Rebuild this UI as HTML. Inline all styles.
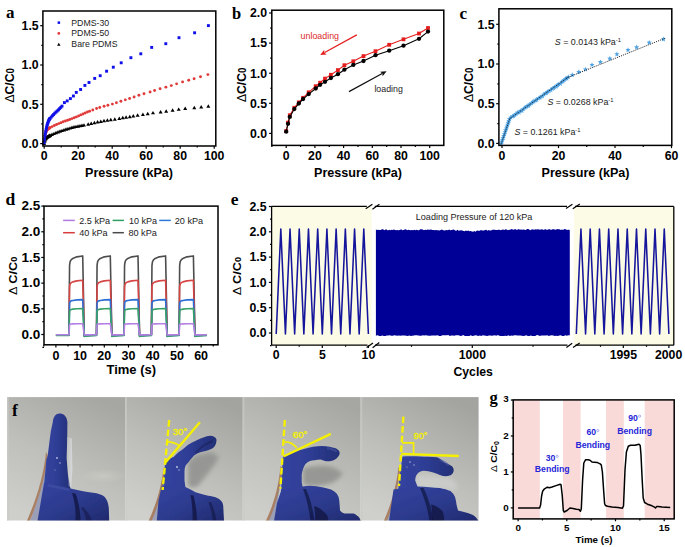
<!DOCTYPE html><html><head><meta charset="utf-8"><style>html,body{margin:0;padding:0;background:#fff;width:685px;height:547px;overflow:hidden}svg{display:block}</style></head><body>
<svg width="685" height="547" viewBox="0 0 685 547">
<rect width="685" height="547" fill="#fff"/>
<text x="5.90" y="18.00" font-family="'Liberation Serif',serif" font-size="17" font-weight="700" text-anchor="start" fill="#000"  style="">a</text>
<text transform="translate(14.20,85.30) rotate(-90)" x="0" y="0" text-anchor="middle" font-family="'Liberation Sans',sans-serif" font-size="12.6" font-weight="700" fill="#000" textLength="34.6" lengthAdjust="spacingAndGlyphs"><tspan font-weight="400">Δ</tspan>C/C<tspan font-size="10.08">0</tspan></text>
<circle cx="44.10" cy="142.67" r="1.45" fill="#e03a3a"/>
<circle cx="44.55" cy="138.47" r="1.45" fill="#e03a3a"/>
<circle cx="45.00" cy="136.00" r="1.45" fill="#e03a3a"/>
<circle cx="45.45" cy="133.75" r="1.45" fill="#e03a3a"/>
<circle cx="45.90" cy="132.48" r="1.45" fill="#e03a3a"/>
<circle cx="46.35" cy="131.34" r="1.45" fill="#e03a3a"/>
<circle cx="46.80" cy="130.20" r="1.45" fill="#e03a3a"/>
<circle cx="47.25" cy="129.78" r="1.45" fill="#e03a3a"/>
<circle cx="47.70" cy="129.35" r="1.45" fill="#e03a3a"/>
<circle cx="48.15" cy="128.93" r="1.45" fill="#e03a3a"/>
<circle cx="48.60" cy="128.54" r="1.45" fill="#e03a3a"/>
<circle cx="49.05" cy="128.27" r="1.45" fill="#e03a3a"/>
<circle cx="49.50" cy="128.00" r="1.45" fill="#e03a3a"/>
<circle cx="49.95" cy="127.73" r="1.45" fill="#e03a3a"/>
<circle cx="50.00" cy="127.70" r="1.45" fill="#e03a3a"/>
<circle cx="52.20" cy="126.58" r="1.45" fill="#e03a3a"/>
<circle cx="54.40" cy="125.57" r="1.45" fill="#e03a3a"/>
<circle cx="56.60" cy="124.57" r="1.45" fill="#e03a3a"/>
<circle cx="58.80" cy="123.60" r="1.45" fill="#e03a3a"/>
<circle cx="61.00" cy="122.70" r="1.45" fill="#e03a3a"/>
<circle cx="63.20" cy="121.82" r="1.45" fill="#e03a3a"/>
<circle cx="65.40" cy="121.04" r="1.45" fill="#e03a3a"/>
<circle cx="67.60" cy="120.25" r="1.45" fill="#e03a3a"/>
<circle cx="69.80" cy="119.47" r="1.45" fill="#e03a3a"/>
<circle cx="72.00" cy="118.61" r="1.45" fill="#e03a3a"/>
<circle cx="74.20" cy="117.75" r="1.45" fill="#e03a3a"/>
<circle cx="76.40" cy="116.88" r="1.45" fill="#e03a3a"/>
<circle cx="78.60" cy="115.91" r="1.45" fill="#e03a3a"/>
<circle cx="80.80" cy="114.92" r="1.45" fill="#e03a3a"/>
<circle cx="83.00" cy="113.94" r="1.45" fill="#e03a3a"/>
<circle cx="85.20" cy="112.96" r="1.45" fill="#e03a3a"/>
<circle cx="87.40" cy="112.07" r="1.45" fill="#e03a3a"/>
<circle cx="89.60" cy="111.25" r="1.45" fill="#e03a3a"/>
<circle cx="92.80" cy="110.00" r="1.45" fill="#e03a3a"/>
<circle cx="96.60" cy="108.50" r="1.45" fill="#e03a3a"/>
<circle cx="99.80" cy="107.56" r="1.45" fill="#e03a3a"/>
<circle cx="104.10" cy="106.30" r="1.45" fill="#e03a3a"/>
<circle cx="107.90" cy="105.29" r="1.45" fill="#e03a3a"/>
<circle cx="112.40" cy="104.10" r="1.45" fill="#e03a3a"/>
<circle cx="116.40" cy="102.75" r="1.45" fill="#e03a3a"/>
<circle cx="120.90" cy="101.23" r="1.45" fill="#e03a3a"/>
<circle cx="125.30" cy="99.85" r="1.45" fill="#e03a3a"/>
<circle cx="129.60" cy="98.50" r="1.45" fill="#e03a3a"/>
<circle cx="134.10" cy="96.95" r="1.45" fill="#e03a3a"/>
<circle cx="138.90" cy="95.30" r="1.45" fill="#e03a3a"/>
<circle cx="144.00" cy="93.80" r="1.45" fill="#e03a3a"/>
<circle cx="150.10" cy="92.00" r="1.45" fill="#e03a3a"/>
<circle cx="154.60" cy="90.56" r="1.45" fill="#e03a3a"/>
<circle cx="160.10" cy="88.80" r="1.45" fill="#e03a3a"/>
<circle cx="165.90" cy="87.14" r="1.45" fill="#e03a3a"/>
<circle cx="171.30" cy="85.60" r="1.45" fill="#e03a3a"/>
<circle cx="176.60" cy="83.86" r="1.45" fill="#e03a3a"/>
<circle cx="182.60" cy="81.90" r="1.45" fill="#e03a3a"/>
<circle cx="188.70" cy="80.20" r="1.45" fill="#e03a3a"/>
<circle cx="194.10" cy="78.70" r="1.45" fill="#e03a3a"/>
<circle cx="200.50" cy="76.80" r="1.45" fill="#e03a3a"/>
<circle cx="207.90" cy="74.60" r="1.45" fill="#e03a3a"/>
<path d="M44.10,141.50 L46.10,144.95 L42.10,144.95 Z" fill="#000"/>
<path d="M44.55,139.25 L46.55,142.70 L42.55,142.70 Z" fill="#000"/>
<path d="M45.00,138.11 L47.00,141.56 L43.00,141.56 Z" fill="#000"/>
<path d="M45.45,137.11 L47.45,140.56 L43.45,140.56 Z" fill="#000"/>
<path d="M45.90,136.48 L47.90,139.93 L43.90,139.93 Z" fill="#000"/>
<path d="M46.35,135.89 L48.35,139.34 L44.35,139.34 Z" fill="#000"/>
<path d="M46.80,135.30 L48.80,138.75 L44.80,138.75 Z" fill="#000"/>
<path d="M47.25,135.01 L49.25,138.46 L45.25,138.46 Z" fill="#000"/>
<path d="M47.70,134.72 L49.70,138.17 L45.70,138.17 Z" fill="#000"/>
<path d="M48.15,134.43 L50.15,137.88 L46.15,137.88 Z" fill="#000"/>
<path d="M48.60,134.15 L50.60,137.60 L46.60,137.60 Z" fill="#000"/>
<path d="M49.05,133.94 L51.05,137.39 L47.05,137.39 Z" fill="#000"/>
<path d="M49.50,133.74 L51.50,137.19 L47.50,137.19 Z" fill="#000"/>
<path d="M49.95,133.53 L51.95,136.98 L47.95,136.98 Z" fill="#000"/>
<path d="M50.00,133.50 L52.00,136.95 L48.00,136.95 Z" fill="#000"/>
<path d="M52.00,132.57 L54.00,136.02 L50.00,136.02 Z" fill="#000"/>
<path d="M54.00,131.64 L56.00,135.09 L52.00,135.09 Z" fill="#000"/>
<path d="M56.00,130.70 L58.00,134.15 L54.00,134.15 Z" fill="#000"/>
<path d="M58.00,130.01 L60.00,133.46 L56.00,133.46 Z" fill="#000"/>
<path d="M60.00,129.33 L62.00,132.78 L58.00,132.78 Z" fill="#000"/>
<path d="M62.00,128.64 L64.00,132.09 L60.00,132.09 Z" fill="#000"/>
<path d="M64.00,127.98 L66.00,131.43 L62.00,131.43 Z" fill="#000"/>
<path d="M66.00,127.34 L68.00,130.79 L64.00,130.79 Z" fill="#000"/>
<path d="M68.00,126.70 L70.00,130.15 L66.00,130.15 Z" fill="#000"/>
<path d="M70.00,126.13 L72.00,129.58 L68.00,129.58 Z" fill="#000"/>
<path d="M72.00,125.57 L74.00,129.02 L70.00,129.02 Z" fill="#000"/>
<path d="M74.00,125.00 L76.00,128.45 L72.00,128.45 Z" fill="#000"/>
<path d="M76.00,124.63 L78.00,128.08 L74.00,128.08 Z" fill="#000"/>
<path d="M78.00,124.27 L80.00,127.72 L76.00,127.72 Z" fill="#000"/>
<path d="M80.00,123.90 L82.00,127.35 L78.00,127.35 Z" fill="#000"/>
<path d="M82.00,123.53 L84.00,126.98 L80.00,126.98 Z" fill="#000"/>
<path d="M84.00,123.16 L86.00,126.61 L82.00,126.61 Z" fill="#000"/>
<path d="M88.20,122.34 L90.20,125.79 L86.20,125.79 Z" fill="#000"/>
<path d="M91.20,121.55 L93.20,125.00 L89.20,125.00 Z" fill="#000"/>
<path d="M94.40,120.71 L96.40,124.16 L92.40,124.16 Z" fill="#000"/>
<path d="M97.60,120.05 L99.60,123.50 L95.60,123.50 Z" fill="#000"/>
<path d="M100.80,119.43 L102.80,122.88 L98.80,122.88 Z" fill="#000"/>
<path d="M104.00,118.80 L106.00,122.25 L102.00,122.25 Z" fill="#000"/>
<path d="M107.40,118.25 L109.40,121.70 L105.40,121.70 Z" fill="#000"/>
<path d="M110.80,117.70 L112.80,121.15 L108.80,121.15 Z" fill="#000"/>
<path d="M114.80,117.30 L116.80,120.75 L112.80,120.75 Z" fill="#000"/>
<path d="M119.30,116.50 L121.30,119.95 L117.30,119.95 Z" fill="#000"/>
<path d="M122.80,115.70 L124.80,119.15 L120.80,119.15 Z" fill="#000"/>
<path d="M126.10,115.30 L128.10,118.75 L124.10,118.75 Z" fill="#000"/>
<path d="M129.80,114.68 L131.80,118.13 L127.80,118.13 Z" fill="#000"/>
<path d="M133.30,114.10 L135.30,117.55 L131.30,117.55 Z" fill="#000"/>
<path d="M137.60,113.30 L139.60,116.75 L135.60,116.75 Z" fill="#000"/>
<path d="M142.90,112.50 L144.90,115.95 L140.90,115.95 Z" fill="#000"/>
<path d="M147.70,111.70 L149.70,115.15 L145.70,115.15 Z" fill="#000"/>
<path d="M153.00,110.90 L155.00,114.35 L151.00,114.35 Z" fill="#000"/>
<path d="M160.60,110.10 L162.60,113.55 L158.60,113.55 Z" fill="#000"/>
<path d="M166.20,109.30 L168.20,112.75 L164.20,112.75 Z" fill="#000"/>
<path d="M172.60,108.20 L174.60,111.65 L170.60,111.65 Z" fill="#000"/>
<path d="M178.70,107.40 L180.70,110.85 L176.70,110.85 Z" fill="#000"/>
<path d="M185.20,106.60 L187.20,110.05 L183.20,110.05 Z" fill="#000"/>
<path d="M194.30,105.80 L196.30,109.25 L192.30,109.25 Z" fill="#000"/>
<path d="M201.20,105.00 L203.20,108.45 L199.20,108.45 Z" fill="#000"/>
<path d="M208.30,104.20 L210.30,107.65 L206.30,107.65 Z" fill="#000"/>
<rect x="42.65" y="141.32" width="2.9" height="2.9" fill="#1010e8"/>
<rect x="43.05" y="138.03" width="2.9" height="2.9" fill="#1010e8"/>
<rect x="43.45" y="134.95" width="2.9" height="2.9" fill="#1010e8"/>
<rect x="43.85" y="132.55" width="2.9" height="2.9" fill="#1010e8"/>
<rect x="44.25" y="130.15" width="2.9" height="2.9" fill="#1010e8"/>
<rect x="44.65" y="128.18" width="2.9" height="2.9" fill="#1010e8"/>
<rect x="45.05" y="126.34" width="2.9" height="2.9" fill="#1010e8"/>
<rect x="45.45" y="124.51" width="2.9" height="2.9" fill="#1010e8"/>
<rect x="45.85" y="123.13" width="2.9" height="2.9" fill="#1010e8"/>
<rect x="46.25" y="121.90" width="2.9" height="2.9" fill="#1010e8"/>
<rect x="46.65" y="120.67" width="2.9" height="2.9" fill="#1010e8"/>
<rect x="47.05" y="119.63" width="2.9" height="2.9" fill="#1010e8"/>
<rect x="47.45" y="118.80" width="2.9" height="2.9" fill="#1010e8"/>
<rect x="47.85" y="117.97" width="2.9" height="2.9" fill="#1010e8"/>
<rect x="48.25" y="117.33" width="2.9" height="2.9" fill="#1010e8"/>
<rect x="48.55" y="116.99" width="2.9" height="2.9" fill="#1010e8"/>
<rect x="49.75" y="115.65" width="2.9" height="2.9" fill="#1010e8"/>
<rect x="50.95" y="114.32" width="2.9" height="2.9" fill="#1010e8"/>
<rect x="52.15" y="113.04" width="2.9" height="2.9" fill="#1010e8"/>
<rect x="53.35" y="111.76" width="2.9" height="2.9" fill="#1010e8"/>
<rect x="54.55" y="110.64" width="2.9" height="2.9" fill="#1010e8"/>
<rect x="55.75" y="109.55" width="2.9" height="2.9" fill="#1010e8"/>
<rect x="56.95" y="108.45" width="2.9" height="2.9" fill="#1010e8"/>
<rect x="58.15" y="107.19" width="2.9" height="2.9" fill="#1010e8"/>
<rect x="59.35" y="105.94" width="2.9" height="2.9" fill="#1010e8"/>
<rect x="60.55" y="104.68" width="2.9" height="2.9" fill="#1010e8"/>
<rect x="62.95" y="101.15" width="2.9" height="2.9" fill="#1010e8"/>
<rect x="65.75" y="99.45" width="2.9" height="2.9" fill="#1010e8"/>
<rect x="68.95" y="97.15" width="2.9" height="2.9" fill="#1010e8"/>
<rect x="71.95" y="94.55" width="2.9" height="2.9" fill="#1010e8"/>
<rect x="74.85" y="90.95" width="2.9" height="2.9" fill="#1010e8"/>
<rect x="79.15" y="88.05" width="2.9" height="2.9" fill="#1010e8"/>
<rect x="83.45" y="83.95" width="2.9" height="2.9" fill="#1010e8"/>
<rect x="87.55" y="81.05" width="2.9" height="2.9" fill="#1010e8"/>
<rect x="93.25" y="76.95" width="2.9" height="2.9" fill="#1010e8"/>
<rect x="98.75" y="74.25" width="2.9" height="2.9" fill="#1010e8"/>
<rect x="105.15" y="69.75" width="2.9" height="2.9" fill="#1010e8"/>
<rect x="111.85" y="65.75" width="2.9" height="2.9" fill="#1010e8"/>
<rect x="119.75" y="61.35" width="2.9" height="2.9" fill="#1010e8"/>
<rect x="129.45" y="56.25" width="2.9" height="2.9" fill="#1010e8"/>
<rect x="139.35" y="52.35" width="2.9" height="2.9" fill="#1010e8"/>
<rect x="150.25" y="45.95" width="2.9" height="2.9" fill="#1010e8"/>
<rect x="164.35" y="42.25" width="2.9" height="2.9" fill="#1010e8"/>
<rect x="177.55" y="36.25" width="2.9" height="2.9" fill="#1010e8"/>
<rect x="193.15" y="31.35" width="2.9" height="2.9" fill="#1010e8"/>
<rect x="206.95" y="24.15" width="2.9" height="2.9" fill="#1010e8"/>
<rect x="57.6" y="21.4" width="2.5" height="2.5" fill="#1010e8"/>
<circle cx="58.8" cy="33.4" r="1.4" fill="#e03a3a"/>
<path d="M58.8,42.8 L60.55,45.8 L57.05,45.8 Z" fill="#000"/>
<text x="71.30" y="25.50" font-family="'Liberation Sans',sans-serif" font-size="8.5" font-weight="400" text-anchor="start" fill="#222" textLength="37.8" lengthAdjust="spacingAndGlyphs"  style="">PDMS-30</text>
<text x="71.30" y="36.40" font-family="'Liberation Sans',sans-serif" font-size="8.5" font-weight="400" text-anchor="start" fill="#222" textLength="37.8" lengthAdjust="spacingAndGlyphs"  style="">PDMS-50</text>
<text x="71.30" y="47.40" font-family="'Liberation Sans',sans-serif" font-size="8.5" font-weight="400" text-anchor="start" fill="#222" textLength="46.2" lengthAdjust="spacingAndGlyphs"  style="">Bare PDMS</text>
<rect x="42.90" y="11.00" width="172.90" height="135.00" fill="none" stroke="#000" stroke-width="1.5"/>
<line x1="40.20" y1="143.60" x2="42.90" y2="143.60" stroke="#000" stroke-width="1.2" />
<line x1="40.20" y1="104.30" x2="42.90" y2="104.30" stroke="#000" stroke-width="1.2" />
<line x1="40.20" y1="65.00" x2="42.90" y2="65.00" stroke="#000" stroke-width="1.2" />
<line x1="40.20" y1="25.70" x2="42.90" y2="25.70" stroke="#000" stroke-width="1.2" />
<line x1="41.30" y1="123.95" x2="42.90" y2="123.95" stroke="#000" stroke-width="1.2" />
<line x1="41.30" y1="84.65" x2="42.90" y2="84.65" stroke="#000" stroke-width="1.2" />
<line x1="41.30" y1="45.35" x2="42.90" y2="45.35" stroke="#000" stroke-width="1.2" />
<line x1="44.20" y1="146.00" x2="44.20" y2="148.70" stroke="#000" stroke-width="1.2" />
<line x1="78.20" y1="146.00" x2="78.20" y2="148.70" stroke="#000" stroke-width="1.2" />
<line x1="112.20" y1="146.00" x2="112.20" y2="148.70" stroke="#000" stroke-width="1.2" />
<line x1="146.20" y1="146.00" x2="146.20" y2="148.70" stroke="#000" stroke-width="1.2" />
<line x1="180.20" y1="146.00" x2="180.20" y2="148.70" stroke="#000" stroke-width="1.2" />
<line x1="214.20" y1="146.00" x2="214.20" y2="148.70" stroke="#000" stroke-width="1.2" />
<line x1="61.20" y1="146.00" x2="61.20" y2="147.60" stroke="#000" stroke-width="1.2" />
<line x1="95.20" y1="146.00" x2="95.20" y2="147.60" stroke="#000" stroke-width="1.2" />
<line x1="129.20" y1="146.00" x2="129.20" y2="147.60" stroke="#000" stroke-width="1.2" />
<line x1="163.20" y1="146.00" x2="163.20" y2="147.60" stroke="#000" stroke-width="1.2" />
<line x1="197.20" y1="146.00" x2="197.20" y2="147.60" stroke="#000" stroke-width="1.2" />
<text transform="translate(38.70,147.90) scale(1.0,1)" font-family="'Liberation Sans',sans-serif" font-size="12.3" font-weight="700" text-anchor="end" fill="#000">0.0</text>
<text transform="translate(38.70,108.60) scale(1.0,1)" font-family="'Liberation Sans',sans-serif" font-size="12.3" font-weight="700" text-anchor="end" fill="#000">0.5</text>
<text transform="translate(38.70,69.30) scale(1.0,1)" font-family="'Liberation Sans',sans-serif" font-size="12.3" font-weight="700" text-anchor="end" fill="#000">1.0</text>
<text transform="translate(38.70,30.00) scale(1.0,1)" font-family="'Liberation Sans',sans-serif" font-size="12.3" font-weight="700" text-anchor="end" fill="#000">1.5</text>
<text transform="translate(44.20,159.60) scale(1.0,1)" font-family="'Liberation Sans',sans-serif" font-size="12.3" font-weight="700" text-anchor="middle" fill="#000">0</text>
<text transform="translate(78.20,159.60) scale(1.0,1)" font-family="'Liberation Sans',sans-serif" font-size="12.3" font-weight="700" text-anchor="middle" fill="#000">20</text>
<text transform="translate(112.20,159.60) scale(1.0,1)" font-family="'Liberation Sans',sans-serif" font-size="12.3" font-weight="700" text-anchor="middle" fill="#000">40</text>
<text transform="translate(146.20,159.60) scale(1.0,1)" font-family="'Liberation Sans',sans-serif" font-size="12.3" font-weight="700" text-anchor="middle" fill="#000">60</text>
<text transform="translate(180.20,159.60) scale(1.0,1)" font-family="'Liberation Sans',sans-serif" font-size="12.3" font-weight="700" text-anchor="middle" fill="#000">80</text>
<text transform="translate(214.20,159.60) scale(1.0,1)" font-family="'Liberation Sans',sans-serif" font-size="12.3" font-weight="700" text-anchor="middle" fill="#000">100</text>
<text x="129.00" y="176.80" font-family="'Liberation Sans',sans-serif" font-size="12.0" font-weight="700" text-anchor="middle" fill="#000" textLength="88.0" lengthAdjust="spacingAndGlyphs"  style="">Pressure (kPa)</text>
<text x="231.90" y="18.80" font-family="'Liberation Serif',serif" font-size="16.5" font-weight="700" text-anchor="start" fill="#000"  style="">b</text>
<text transform="translate(246.00,84.80) rotate(-90)" x="0" y="0" text-anchor="middle" font-family="'Liberation Sans',sans-serif" font-size="12.6" font-weight="700" fill="#000" textLength="34.6" lengthAdjust="spacingAndGlyphs"><tspan font-weight="400">Δ</tspan>C/C<tspan font-size="10.08">0</tspan></text>
<polyline points="286.20,131.00 288.00,122.60 289.80,115.20 294.30,107.80 298.80,102.40 303.10,97.80 308.70,92.30 315.70,86.20 320.10,82.70 325.00,78.60 330.90,74.80 337.90,70.10 344.40,65.20 353.30,61.30 363.50,56.10 375.50,51.20 389.20,44.80 403.50,39.30 419.00,33.50 428.00,28.00" fill="none" stroke="#e41e1e" stroke-width="1.1" stroke-linejoin="round" />
<rect x="284.30" y="129.10" width="3.8" height="3.8" fill="#e41e1e"/>
<rect x="286.10" y="120.70" width="3.8" height="3.8" fill="#e41e1e"/>
<rect x="287.90" y="113.30" width="3.8" height="3.8" fill="#e41e1e"/>
<rect x="292.40" y="105.90" width="3.8" height="3.8" fill="#e41e1e"/>
<rect x="296.90" y="100.50" width="3.8" height="3.8" fill="#e41e1e"/>
<rect x="301.20" y="95.90" width="3.8" height="3.8" fill="#e41e1e"/>
<rect x="306.80" y="90.40" width="3.8" height="3.8" fill="#e41e1e"/>
<rect x="313.80" y="84.30" width="3.8" height="3.8" fill="#e41e1e"/>
<rect x="318.20" y="80.80" width="3.8" height="3.8" fill="#e41e1e"/>
<rect x="323.10" y="76.70" width="3.8" height="3.8" fill="#e41e1e"/>
<rect x="329.00" y="72.90" width="3.8" height="3.8" fill="#e41e1e"/>
<rect x="336.00" y="68.20" width="3.8" height="3.8" fill="#e41e1e"/>
<rect x="342.50" y="63.30" width="3.8" height="3.8" fill="#e41e1e"/>
<rect x="351.40" y="59.40" width="3.8" height="3.8" fill="#e41e1e"/>
<rect x="361.60" y="54.20" width="3.8" height="3.8" fill="#e41e1e"/>
<rect x="373.60" y="49.30" width="3.8" height="3.8" fill="#e41e1e"/>
<rect x="387.30" y="42.90" width="3.8" height="3.8" fill="#e41e1e"/>
<rect x="401.60" y="37.40" width="3.8" height="3.8" fill="#e41e1e"/>
<rect x="417.10" y="31.60" width="3.8" height="3.8" fill="#e41e1e"/>
<rect x="426.10" y="26.10" width="3.8" height="3.8" fill="#e41e1e"/>
<polyline points="286.20,131.70 288.00,123.80 289.80,116.90 294.30,109.10 298.80,103.50 303.10,99.00 308.70,94.10 315.70,88.50 320.10,84.80 325.00,81.80 330.90,78.00 337.90,74.20 344.40,69.70 353.30,64.90 363.50,61.00 375.50,55.20 389.20,50.70 403.50,45.70 419.00,38.80 428.00,31.60" fill="none" stroke="#000" stroke-width="1.1" stroke-linejoin="round" />
<circle cx="286.20" cy="131.70" r="2.15" fill="#000"/>
<circle cx="288.00" cy="123.80" r="2.15" fill="#000"/>
<circle cx="289.80" cy="116.90" r="2.15" fill="#000"/>
<circle cx="294.30" cy="109.10" r="2.15" fill="#000"/>
<circle cx="298.80" cy="103.50" r="2.15" fill="#000"/>
<circle cx="303.10" cy="99.00" r="2.15" fill="#000"/>
<circle cx="308.70" cy="94.10" r="2.15" fill="#000"/>
<circle cx="315.70" cy="88.50" r="2.15" fill="#000"/>
<circle cx="320.10" cy="84.80" r="2.15" fill="#000"/>
<circle cx="325.00" cy="81.80" r="2.15" fill="#000"/>
<circle cx="330.90" cy="78.00" r="2.15" fill="#000"/>
<circle cx="337.90" cy="74.20" r="2.15" fill="#000"/>
<circle cx="344.40" cy="69.70" r="2.15" fill="#000"/>
<circle cx="353.30" cy="64.90" r="2.15" fill="#000"/>
<circle cx="363.50" cy="61.00" r="2.15" fill="#000"/>
<circle cx="375.50" cy="55.20" r="2.15" fill="#000"/>
<circle cx="389.20" cy="50.70" r="2.15" fill="#000"/>
<circle cx="403.50" cy="45.70" r="2.15" fill="#000"/>
<circle cx="419.00" cy="38.80" r="2.15" fill="#000"/>
<circle cx="428.00" cy="31.60" r="2.15" fill="#000"/>
<line x1="356.80" y1="34.90" x2="324.58" y2="52.59" stroke="#e41e1e" stroke-width="1.2" />
<path d="M320.20,55.00 L324.21,49.83 L324.41,52.69 L326.71,54.39 Z" fill="#e41e1e"/>
<line x1="349.00" y1="91.60" x2="382.21" y2="73.58" stroke="#111" stroke-width="1.2" />
<path d="M386.60,71.20 L382.57,76.35 L382.38,73.49 L380.09,71.78 Z" fill="#111"/>
<text x="300.60" y="38.80" font-family="'Liberation Sans',sans-serif" font-size="8.4" font-weight="400" text-anchor="start" fill="#dc2a2a" textLength="38.4" lengthAdjust="spacingAndGlyphs"  style="">unloading</text>
<text x="374.40" y="92.20" font-family="'Liberation Sans',sans-serif" font-size="8.4" font-weight="400" text-anchor="start" fill="#222" textLength="28.4" lengthAdjust="spacingAndGlyphs"  style="">loading</text>
<rect x="271.80" y="10.20" width="172.00" height="135.20" fill="none" stroke="#000" stroke-width="1.5"/>
<line x1="269.10" y1="133.40" x2="271.80" y2="133.40" stroke="#000" stroke-width="1.2" />
<line x1="269.10" y1="103.30" x2="271.80" y2="103.30" stroke="#000" stroke-width="1.2" />
<line x1="269.10" y1="73.20" x2="271.80" y2="73.20" stroke="#000" stroke-width="1.2" />
<line x1="269.10" y1="43.10" x2="271.80" y2="43.10" stroke="#000" stroke-width="1.2" />
<line x1="269.10" y1="13.00" x2="271.80" y2="13.00" stroke="#000" stroke-width="1.2" />
<line x1="270.20" y1="118.35" x2="271.80" y2="118.35" stroke="#000" stroke-width="1.2" />
<line x1="270.20" y1="88.25" x2="271.80" y2="88.25" stroke="#000" stroke-width="1.2" />
<line x1="270.20" y1="58.15" x2="271.80" y2="58.15" stroke="#000" stroke-width="1.2" />
<line x1="270.20" y1="28.05" x2="271.80" y2="28.05" stroke="#000" stroke-width="1.2" />
<line x1="286.20" y1="145.40" x2="286.20" y2="148.10" stroke="#000" stroke-width="1.2" />
<line x1="314.90" y1="145.40" x2="314.90" y2="148.10" stroke="#000" stroke-width="1.2" />
<line x1="343.60" y1="145.40" x2="343.60" y2="148.10" stroke="#000" stroke-width="1.2" />
<line x1="372.30" y1="145.40" x2="372.30" y2="148.10" stroke="#000" stroke-width="1.2" />
<line x1="401.00" y1="145.40" x2="401.00" y2="148.10" stroke="#000" stroke-width="1.2" />
<line x1="429.70" y1="145.40" x2="429.70" y2="148.10" stroke="#000" stroke-width="1.2" />
<line x1="271.85" y1="145.40" x2="271.85" y2="147.00" stroke="#000" stroke-width="1.2" />
<line x1="300.55" y1="145.40" x2="300.55" y2="147.00" stroke="#000" stroke-width="1.2" />
<line x1="329.25" y1="145.40" x2="329.25" y2="147.00" stroke="#000" stroke-width="1.2" />
<line x1="357.95" y1="145.40" x2="357.95" y2="147.00" stroke="#000" stroke-width="1.2" />
<line x1="386.65" y1="145.40" x2="386.65" y2="147.00" stroke="#000" stroke-width="1.2" />
<line x1="415.35" y1="145.40" x2="415.35" y2="147.00" stroke="#000" stroke-width="1.2" />
<text transform="translate(267.00,137.70) scale(1.0,1)" font-family="'Liberation Sans',sans-serif" font-size="12.3" font-weight="700" text-anchor="end" fill="#000">0.0</text>
<text transform="translate(267.00,107.60) scale(1.0,1)" font-family="'Liberation Sans',sans-serif" font-size="12.3" font-weight="700" text-anchor="end" fill="#000">0.5</text>
<text transform="translate(267.00,77.50) scale(1.0,1)" font-family="'Liberation Sans',sans-serif" font-size="12.3" font-weight="700" text-anchor="end" fill="#000">1.0</text>
<text transform="translate(267.00,47.40) scale(1.0,1)" font-family="'Liberation Sans',sans-serif" font-size="12.3" font-weight="700" text-anchor="end" fill="#000">1.5</text>
<text transform="translate(267.00,17.30) scale(1.0,1)" font-family="'Liberation Sans',sans-serif" font-size="12.3" font-weight="700" text-anchor="end" fill="#000">2.0</text>
<text transform="translate(286.20,159.60) scale(1.0,1)" font-family="'Liberation Sans',sans-serif" font-size="12.3" font-weight="700" text-anchor="middle" fill="#000">0</text>
<text transform="translate(314.90,159.60) scale(1.0,1)" font-family="'Liberation Sans',sans-serif" font-size="12.3" font-weight="700" text-anchor="middle" fill="#000">20</text>
<text transform="translate(343.60,159.60) scale(1.0,1)" font-family="'Liberation Sans',sans-serif" font-size="12.3" font-weight="700" text-anchor="middle" fill="#000">40</text>
<text transform="translate(372.30,159.60) scale(1.0,1)" font-family="'Liberation Sans',sans-serif" font-size="12.3" font-weight="700" text-anchor="middle" fill="#000">60</text>
<text transform="translate(401.00,159.60) scale(1.0,1)" font-family="'Liberation Sans',sans-serif" font-size="12.3" font-weight="700" text-anchor="middle" fill="#000">80</text>
<text transform="translate(429.70,159.60) scale(1.0,1)" font-family="'Liberation Sans',sans-serif" font-size="12.3" font-weight="700" text-anchor="middle" fill="#000">100</text>
<text x="358.00" y="176.80" font-family="'Liberation Sans',sans-serif" font-size="12.0" font-weight="700" text-anchor="middle" fill="#000" textLength="88.0" lengthAdjust="spacingAndGlyphs"  style="">Pressure (kPa)</text>
<text x="459.60" y="18.60" font-family="'Liberation Serif',serif" font-size="17" font-weight="700" text-anchor="start" fill="#000"  style="">c</text>
<text transform="translate(472.80,84.80) rotate(-90)" x="0" y="0" text-anchor="middle" font-family="'Liberation Sans',sans-serif" font-size="12.6" font-weight="700" fill="#000" textLength="34.6" lengthAdjust="spacingAndGlyphs"><tspan font-weight="400">Δ</tspan>C/C<tspan font-size="10.08">0</tspan></text>
<polygon points="501.20,140.90 501.91,142.62 503.77,142.77 502.36,143.98 502.79,145.78 501.20,144.81 499.61,145.78 500.04,143.98 498.63,142.77 500.49,142.62" fill="#4fa3e3"/>
<polygon points="501.84,139.01 502.55,140.72 504.41,140.87 502.99,142.08 503.43,143.89 501.84,142.92 500.25,143.89 500.68,142.08 499.27,140.87 501.12,140.72" fill="#4fa3e3"/>
<polygon points="502.48,137.12 503.19,138.83 505.04,138.98 503.63,140.19 504.06,142.00 502.48,141.03 500.89,142.00 501.32,140.19 499.91,138.98 501.76,138.83" fill="#4fa3e3"/>
<polygon points="503.12,135.22 503.83,136.94 505.68,137.09 504.27,138.30 504.70,140.11 503.12,139.14 501.53,140.11 501.96,138.30 500.55,137.09 502.40,136.94" fill="#4fa3e3"/>
<polygon points="503.75,133.33 504.47,135.05 506.32,135.20 504.91,136.41 505.34,138.22 503.75,137.25 502.17,138.22 502.60,136.41 501.19,135.20 503.04,135.05" fill="#4fa3e3"/>
<polygon points="504.39,131.44 505.11,133.16 506.96,133.30 505.55,134.51 505.98,136.32 504.39,135.35 502.81,136.32 503.24,134.51 501.82,133.30 503.68,133.16" fill="#4fa3e3"/>
<polygon points="505.03,129.55 505.74,131.26 507.60,131.41 506.19,132.62 506.62,134.43 505.03,133.46 503.44,134.43 503.88,132.62 502.46,131.41 504.32,131.26" fill="#4fa3e3"/>
<polygon points="505.67,127.65 506.38,129.37 508.24,129.52 506.82,130.73 507.26,132.54 505.67,131.57 504.08,132.54 504.51,130.73 503.10,129.52 504.96,129.37" fill="#4fa3e3"/>
<polygon points="506.31,125.76 507.02,127.48 508.88,127.63 507.46,128.84 507.89,130.65 506.31,129.68 504.72,130.65 505.15,128.84 503.74,127.63 505.59,127.48" fill="#4fa3e3"/>
<polygon points="506.95,123.87 507.66,125.59 509.51,125.73 508.10,126.94 508.53,128.75 506.95,127.78 505.36,128.75 505.79,126.94 504.38,125.73 506.23,125.59" fill="#4fa3e3"/>
<polygon points="507.58,121.98 508.30,123.69 510.15,123.84 508.74,125.05 509.17,126.86 507.58,125.89 506.00,126.86 506.43,125.05 505.02,123.84 506.87,123.69" fill="#4fa3e3"/>
<polygon points="508.22,120.08 508.94,121.80 510.79,121.95 509.38,123.16 509.81,124.97 508.22,124.00 506.64,124.97 507.07,123.16 505.66,121.95 507.51,121.80" fill="#4fa3e3"/>
<polygon points="508.86,118.19 509.58,119.91 511.43,120.06 510.02,121.27 510.45,123.08 508.86,122.11 507.27,123.08 507.71,121.27 506.29,120.06 508.15,119.91" fill="#4fa3e3"/>
<polygon points="509.50,116.30 510.21,118.02 512.07,118.17 510.66,119.38 511.09,121.18 509.50,120.22 507.91,121.18 508.34,119.38 506.93,118.17 508.79,118.02" fill="#4fa3e3"/>
<polygon points="510.77,114.91 511.48,116.63 513.33,116.78 511.92,117.99 512.35,119.80 510.77,118.83 509.18,119.80 509.61,117.99 508.20,116.78 510.05,116.63" fill="#4fa3e3"/>
<polygon points="512.33,113.85 513.05,115.56 514.90,115.71 513.49,116.92 513.92,118.73 512.33,117.76 510.75,118.73 511.18,116.92 509.77,115.71 511.62,115.56" fill="#4fa3e3"/>
<polygon points="513.64,113.23 514.35,114.95 516.21,115.10 514.79,116.30 515.22,118.11 513.64,117.14 512.05,118.11 512.48,116.30 511.07,115.10 512.92,114.95" fill="#4fa3e3"/>
<polygon points="514.72,112.43 515.44,114.15 517.29,114.30 515.88,115.51 516.31,117.31 514.72,116.34 513.14,117.31 513.57,115.51 512.16,114.30 514.01,114.15" fill="#4fa3e3"/>
<polygon points="516.08,111.37 516.80,113.09 518.65,113.24 517.24,114.45 517.67,116.26 516.08,115.29 514.50,116.26 514.93,114.45 513.52,113.24 515.37,113.09" fill="#4fa3e3"/>
<polygon points="517.47,109.99 518.19,111.71 520.04,111.86 518.63,113.07 519.06,114.87 517.47,113.91 515.89,114.87 516.32,113.07 514.91,111.86 516.76,111.71" fill="#4fa3e3"/>
<polygon points="519.06,109.90 519.77,111.62 521.63,111.77 520.21,112.98 520.65,114.79 519.06,113.82 517.47,114.79 517.90,112.98 516.49,111.77 518.35,111.62" fill="#4fa3e3"/>
<polygon points="520.25,108.21 520.97,109.93 522.82,110.08 521.41,111.29 521.84,113.09 520.25,112.12 518.66,113.09 519.10,111.29 517.68,110.08 519.54,109.93" fill="#4fa3e3"/>
<polygon points="521.93,108.11 522.64,109.83 524.49,109.97 523.08,111.18 523.51,112.99 521.93,112.02 520.34,112.99 520.77,111.18 519.36,109.97 521.21,109.83" fill="#4fa3e3"/>
<polygon points="523.27,106.48 523.98,108.20 525.84,108.34 524.42,109.55 524.85,111.36 523.27,110.39 521.68,111.36 522.11,109.55 520.70,108.34 522.55,108.20" fill="#4fa3e3"/>
<polygon points="524.88,105.09 525.59,106.81 527.45,106.95 526.03,108.16 526.47,109.97 524.88,109.00 523.29,109.97 523.72,108.16 522.31,106.95 524.16,106.81" fill="#4fa3e3"/>
<polygon points="526.18,104.41 526.89,106.13 528.75,106.28 527.34,107.49 527.77,109.29 526.18,108.33 524.59,109.29 525.02,107.49 523.61,106.28 525.47,106.13" fill="#4fa3e3"/>
<polygon points="527.12,103.23 527.84,104.95 529.69,105.10 528.28,106.31 528.71,108.12 527.12,107.15 525.54,108.12 525.97,106.31 524.56,105.10 526.41,104.95" fill="#4fa3e3"/>
<polygon points="528.59,103.10 529.31,104.82 531.16,104.97 529.75,106.18 530.18,107.99 528.59,107.02 527.01,107.99 527.44,106.18 526.03,104.97 527.88,104.82" fill="#4fa3e3"/>
<polygon points="529.89,101.85 530.60,103.57 532.46,103.72 531.05,104.93 531.48,106.74 529.89,105.77 528.30,106.74 528.73,104.93 527.32,103.72 529.18,103.57" fill="#4fa3e3"/>
<polygon points="531.54,100.63 532.25,102.35 534.10,102.50 532.69,103.71 533.12,105.51 531.54,104.55 529.95,105.51 530.38,103.71 528.97,102.50 530.82,102.35" fill="#4fa3e3"/>
<polygon points="532.85,99.29 533.57,101.01 535.42,101.15 534.01,102.36 534.44,104.17 532.85,103.20 531.27,104.17 531.70,102.36 530.29,101.15 532.14,101.01" fill="#4fa3e3"/>
<polygon points="533.93,98.49 534.65,100.21 536.50,100.36 535.09,101.57 535.52,103.38 533.93,102.41 532.35,103.38 532.78,101.57 531.37,100.36 533.22,100.21" fill="#4fa3e3"/>
<polygon points="535.68,97.79 536.39,99.50 538.25,99.65 536.83,100.86 537.27,102.67 535.68,101.70 534.09,102.67 534.52,100.86 533.11,99.65 534.96,99.50" fill="#4fa3e3"/>
<polygon points="536.83,97.01 537.54,98.72 539.40,98.87 537.99,100.08 538.42,101.89 536.83,100.92 535.24,101.89 535.67,100.08 534.26,98.87 536.12,98.72" fill="#4fa3e3"/>
<polygon points="538.29,95.69 539.00,97.41 540.85,97.56 539.44,98.77 539.87,100.58 538.29,99.61 536.70,100.58 537.13,98.77 535.72,97.56 537.57,97.41" fill="#4fa3e3"/>
<polygon points="539.86,95.20 540.58,96.92 542.43,97.07 541.02,98.28 541.45,100.09 539.86,99.12 538.28,100.09 538.71,98.28 537.29,97.07 539.15,96.92" fill="#4fa3e3"/>
<polygon points="540.90,94.08 541.62,95.80 543.47,95.95 542.06,97.16 542.49,98.97 540.90,98.00 539.32,98.97 539.75,97.16 538.34,95.95 540.19,95.80" fill="#4fa3e3"/>
<polygon points="542.45,93.48 543.16,95.19 545.01,95.34 543.60,96.55 544.03,98.36 542.45,97.39 540.86,98.36 541.29,96.55 539.88,95.34 541.73,95.19" fill="#4fa3e3"/>
<polygon points="543.94,91.80 544.65,93.52 546.51,93.67 545.10,94.88 545.53,96.69 543.94,95.72 542.35,96.69 542.78,94.88 541.37,93.67 543.23,93.52" fill="#4fa3e3"/>
<polygon points="545.46,90.63 546.18,92.34 548.03,92.49 546.62,93.70 547.05,95.51 545.46,94.54 543.88,95.51 544.31,93.70 542.89,92.49 544.75,92.34" fill="#4fa3e3"/>
<polygon points="546.50,90.42 547.21,92.14 549.07,92.29 547.65,93.50 548.08,95.31 546.50,94.34 544.91,95.31 545.34,93.50 543.93,92.29 545.78,92.14" fill="#4fa3e3"/>
<polygon points="547.71,89.13 548.42,90.85 550.28,91.00 548.87,92.21 549.30,94.02 547.71,93.05 546.12,94.02 546.55,92.21 545.14,91.00 547.00,90.85" fill="#4fa3e3"/>
<polygon points="549.01,88.38 549.73,90.10 551.58,90.24 550.17,91.45 550.60,93.26 549.01,92.29 547.43,93.26 547.86,91.45 546.45,90.24 548.30,90.10" fill="#4fa3e3"/>
<polygon points="550.82,87.29 551.54,89.01 553.39,89.16 551.98,90.37 552.41,92.18 550.82,91.21 549.23,92.18 549.67,90.37 548.25,89.16 550.11,89.01" fill="#4fa3e3"/>
<polygon points="552.26,86.01 552.97,87.73 554.83,87.88 553.42,89.09 553.85,90.90 552.26,89.93 550.67,90.90 551.10,89.09 549.69,87.88 551.55,87.73" fill="#4fa3e3"/>
<polygon points="553.52,85.38 554.24,87.10 556.09,87.25 554.68,88.46 555.11,90.27 553.52,89.30 551.94,90.27 552.37,88.46 550.96,87.25 552.81,87.10" fill="#4fa3e3"/>
<polygon points="554.83,84.25 555.54,85.96 557.39,86.11 555.98,87.32 556.41,89.13 554.83,88.16 553.24,89.13 553.67,87.32 552.26,86.11 554.11,85.96" fill="#4fa3e3"/>
<polygon points="556.36,83.86 557.07,85.58 558.92,85.73 557.51,86.94 557.94,88.75 556.36,87.78 554.77,88.75 555.20,86.94 553.79,85.73 555.64,85.58" fill="#4fa3e3"/>
<polygon points="557.51,82.56 558.22,84.27 560.08,84.42 558.66,85.63 559.09,87.44 557.51,86.47 555.92,87.44 556.35,85.63 554.94,84.42 556.79,84.27" fill="#4fa3e3"/>
<polygon points="558.63,81.63 559.35,83.35 561.20,83.50 559.79,84.71 560.22,86.51 558.63,85.55 557.04,86.51 557.48,84.71 556.06,83.50 557.92,83.35" fill="#4fa3e3"/>
<polygon points="560.36,81.01 561.07,82.73 562.92,82.88 561.51,84.09 561.94,85.89 560.36,84.93 558.77,85.89 559.20,84.09 557.79,82.88 559.64,82.73" fill="#4fa3e3"/>
<polygon points="561.83,79.19 562.55,80.91 564.40,81.06 562.99,82.27 563.42,84.07 561.83,83.11 560.25,84.07 560.68,82.27 559.26,81.06 561.12,80.91" fill="#4fa3e3"/>
<polygon points="562.94,78.68 563.66,80.40 565.51,80.55 564.10,81.76 564.53,83.57 562.94,82.60 561.36,83.57 561.79,81.76 560.38,80.55 562.23,80.40" fill="#4fa3e3"/>
<polygon points="564.10,77.46 564.81,79.18 566.67,79.33 565.25,80.54 565.68,82.35 564.10,81.38 562.51,82.35 562.94,80.54 561.53,79.33 563.38,79.18" fill="#4fa3e3"/>
<polygon points="565.56,76.08 566.27,77.80 568.12,77.95 566.71,79.16 567.14,80.96 565.56,80.00 563.97,80.96 564.40,79.16 562.99,77.95 564.84,77.80" fill="#4fa3e3"/>
<polygon points="566.86,75.89 567.58,77.61 569.43,77.76 568.02,78.97 568.45,80.78 566.86,79.81 565.28,80.78 565.71,78.97 564.30,77.76 566.15,77.61" fill="#4fa3e3"/>
<polygon points="568.28,74.30 568.99,76.01 570.85,76.16 569.43,77.37 569.86,79.18 568.28,78.21 566.69,79.18 567.12,77.37 565.71,76.16 567.56,76.01" fill="#4fa3e3"/>
<polygon points="572.30,72.30 573.01,74.02 574.87,74.17 573.46,75.38 573.89,77.18 572.30,76.22 570.71,77.18 571.14,75.38 569.73,74.17 571.59,74.02" fill="#4fa3e3"/>
<polygon points="578.80,69.30 579.51,71.02 581.37,71.17 579.96,72.38 580.39,74.18 578.80,73.22 577.21,74.18 577.64,72.38 576.23,71.17 578.09,71.02" fill="#4fa3e3"/>
<polygon points="585.40,66.70 586.11,68.42 587.97,68.57 586.56,69.78 586.99,71.58 585.40,70.62 583.81,71.58 584.24,69.78 582.83,68.57 584.69,68.42" fill="#4fa3e3"/>
<polygon points="592.00,62.20 592.71,63.92 594.57,64.07 593.16,65.28 593.59,67.08 592.00,66.12 590.41,67.08 590.84,65.28 589.43,64.07 591.29,63.92" fill="#4fa3e3"/>
<polygon points="600.40,59.40 601.11,61.12 602.97,61.27 601.56,62.48 601.99,64.28 600.40,63.32 598.81,64.28 599.24,62.48 597.83,61.27 599.69,61.12" fill="#4fa3e3"/>
<polygon points="609.80,55.90 610.51,57.62 612.37,57.77 610.96,58.98 611.39,60.78 609.80,59.82 608.21,60.78 608.64,58.98 607.23,57.77 609.09,57.62" fill="#4fa3e3"/>
<polygon points="616.90,51.50 617.61,53.22 619.47,53.37 618.06,54.58 618.49,56.38 616.90,55.42 615.31,56.38 615.74,54.58 614.33,53.37 616.19,53.22" fill="#4fa3e3"/>
<polygon points="628.00,47.30 628.71,49.02 630.57,49.17 629.16,50.38 629.59,52.18 628.00,51.22 626.41,52.18 626.84,50.38 625.43,49.17 627.29,49.02" fill="#4fa3e3"/>
<polygon points="636.60,44.60 637.31,46.32 639.17,46.47 637.76,47.68 638.19,49.48 636.60,48.52 635.01,49.48 635.44,47.68 634.03,46.47 635.89,46.32" fill="#4fa3e3"/>
<polygon points="649.20,39.90 649.91,41.62 651.77,41.77 650.36,42.98 650.79,44.78 649.20,43.82 647.61,44.78 648.04,42.98 646.63,41.77 648.49,41.62" fill="#4fa3e3"/>
<polygon points="663.40,36.50 664.11,38.22 665.97,38.37 664.56,39.58 664.99,41.38 663.40,40.42 661.81,41.38 662.24,39.58 660.83,38.37 662.69,38.22" fill="#4fa3e3"/>
<g stroke="#111" stroke-width="0.95" stroke-dasharray="1.0,1.1" fill="none">
<line x1="501.3" y1="143.6" x2="509.8" y2="118.6"/>
<line x1="509.8" y1="118.6" x2="568.5" y2="77.0"/>
<line x1="566.5" y1="78.0" x2="665.0" y2="38.2"/>
</g>
<text x="554.80" y="45.00" font-family="'Liberation Sans',sans-serif" font-size="8.9" font-weight="400" text-anchor="start" fill="#222"  style=""><tspan font-style="italic">S</tspan> = 0.0143 kPa<tspan font-size="5.8" dy="-3.3">-1</tspan></text>
<text x="547.40" y="104.90" font-family="'Liberation Sans',sans-serif" font-size="8.9" font-weight="400" text-anchor="start" fill="#222"  style=""><tspan font-style="italic">S</tspan> = 0.0268 kPa<tspan font-size="5.8" dy="-3.3">-1</tspan></text>
<text x="514.40" y="135.00" font-family="'Liberation Sans',sans-serif" font-size="8.9" font-weight="400" text-anchor="start" fill="#222"  style=""><tspan font-style="italic">S</tspan> = 0.1261 kPa<tspan font-size="5.8" dy="-3.3">-1</tspan></text>
<rect x="498.90" y="8.80" width="172.90" height="136.60" fill="none" stroke="#000" stroke-width="1.5"/>
<line x1="496.20" y1="143.40" x2="498.90" y2="143.40" stroke="#000" stroke-width="1.2" />
<line x1="496.20" y1="103.70" x2="498.90" y2="103.70" stroke="#000" stroke-width="1.2" />
<line x1="496.20" y1="64.00" x2="498.90" y2="64.00" stroke="#000" stroke-width="1.2" />
<line x1="496.20" y1="24.30" x2="498.90" y2="24.30" stroke="#000" stroke-width="1.2" />
<line x1="497.30" y1="123.55" x2="498.90" y2="123.55" stroke="#000" stroke-width="1.2" />
<line x1="497.30" y1="83.85" x2="498.90" y2="83.85" stroke="#000" stroke-width="1.2" />
<line x1="497.30" y1="44.15" x2="498.90" y2="44.15" stroke="#000" stroke-width="1.2" />
<line x1="502.00" y1="145.40" x2="502.00" y2="148.10" stroke="#000" stroke-width="1.2" />
<line x1="558.50" y1="145.40" x2="558.50" y2="148.10" stroke="#000" stroke-width="1.2" />
<line x1="615.00" y1="145.40" x2="615.00" y2="148.10" stroke="#000" stroke-width="1.2" />
<line x1="671.50" y1="145.40" x2="671.50" y2="148.10" stroke="#000" stroke-width="1.2" />
<line x1="530.25" y1="145.40" x2="530.25" y2="147.00" stroke="#000" stroke-width="1.2" />
<line x1="586.75" y1="145.40" x2="586.75" y2="147.00" stroke="#000" stroke-width="1.2" />
<line x1="643.25" y1="145.40" x2="643.25" y2="147.00" stroke="#000" stroke-width="1.2" />
<text transform="translate(494.50,147.70) scale(1.0,1)" font-family="'Liberation Sans',sans-serif" font-size="12.3" font-weight="700" text-anchor="end" fill="#000">0.0</text>
<text transform="translate(494.50,108.00) scale(1.0,1)" font-family="'Liberation Sans',sans-serif" font-size="12.3" font-weight="700" text-anchor="end" fill="#000">0.5</text>
<text transform="translate(494.50,68.30) scale(1.0,1)" font-family="'Liberation Sans',sans-serif" font-size="12.3" font-weight="700" text-anchor="end" fill="#000">1.0</text>
<text transform="translate(494.50,28.60) scale(1.0,1)" font-family="'Liberation Sans',sans-serif" font-size="12.3" font-weight="700" text-anchor="end" fill="#000">1.5</text>
<text transform="translate(502.00,159.60) scale(1.0,1)" font-family="'Liberation Sans',sans-serif" font-size="12.3" font-weight="700" text-anchor="middle" fill="#000">0</text>
<text transform="translate(558.50,159.60) scale(1.0,1)" font-family="'Liberation Sans',sans-serif" font-size="12.3" font-weight="700" text-anchor="middle" fill="#000">20</text>
<text transform="translate(615.00,159.60) scale(1.0,1)" font-family="'Liberation Sans',sans-serif" font-size="12.3" font-weight="700" text-anchor="middle" fill="#000">40</text>
<text transform="translate(671.50,159.60) scale(1.0,1)" font-family="'Liberation Sans',sans-serif" font-size="12.3" font-weight="700" text-anchor="middle" fill="#000">60</text>
<text x="585.50" y="176.80" font-family="'Liberation Sans',sans-serif" font-size="12.0" font-weight="700" text-anchor="middle" fill="#000" textLength="88.0" lengthAdjust="spacingAndGlyphs"  style="">Pressure (kPa)</text>
<text x="5.60" y="205.20" font-family="'Liberation Serif',serif" font-size="17.5" font-weight="700" text-anchor="start" fill="#000"  style="">d</text>
<text transform="translate(17.3,275.8) rotate(-90)" text-anchor="middle" font-family="'Liberation Sans',sans-serif" font-size="11.8" font-weight="700" fill="#000" textLength="38.4" lengthAdjust="spacingAndGlyphs"><tspan font-weight="400">Δ </tspan>C/C<tspan font-size="8.5">0</tspan></text>
<polyline points="55.90,334.76 69.00,334.76 69.55,265.72 70.10,261.65 71.10,259.85 72.80,258.46 76.80,256.84 82.70,255.92 84.30,336.04 87.00,335.40 96.50,334.76 97.05,265.72 97.60,261.65 98.60,259.85 100.30,258.46 104.30,256.84 110.30,255.92 111.90,336.04 114.60,335.40 124.00,334.76 124.55,265.72 125.10,261.65 126.10,259.85 127.80,258.46 131.80,256.84 138.00,255.92 139.60,336.04 142.30,335.40 151.40,334.76 151.95,265.72 152.50,261.65 153.50,259.85 155.20,258.46 159.20,256.84 165.60,255.92 167.20,336.04 169.90,335.40 179.10,334.76 179.65,265.72 180.20,261.65 181.20,259.85 182.90,258.46 186.90,256.84 193.40,255.92 195.00,336.04 197.70,335.40 207.00,334.76" fill="none" stroke="#4d4d4d" stroke-width="1.6" stroke-linejoin="round" />
<polyline points="55.90,335.01 69.00,335.01 69.55,286.74 70.10,283.91 71.10,282.72 72.80,281.87 76.80,280.88 82.70,280.32 84.30,336.04 87.00,335.53 96.50,335.01 97.05,286.74 97.60,283.91 98.60,282.72 100.30,281.87 104.30,280.88 110.30,280.32 111.90,336.04 114.60,335.53 124.00,335.01 124.55,286.74 125.10,283.91 126.10,282.72 127.80,281.87 131.80,280.88 138.00,280.32 139.60,336.04 142.30,335.53 151.40,335.01 151.95,286.74 152.50,283.91 153.50,282.72 155.20,281.87 159.20,280.88 165.60,280.32 167.20,336.04 169.90,335.53 179.10,335.01 179.65,286.74 180.20,283.91 181.20,282.72 182.90,281.87 186.90,280.88 193.40,280.32 195.00,336.04 197.70,335.53 207.00,335.01" fill="none" stroke="#d64444" stroke-width="1.6" stroke-linejoin="round" />
<polyline points="55.90,335.27 69.00,335.27 69.55,303.45 70.10,301.62 71.10,300.88 72.80,300.42 76.80,299.88 82.70,299.58 84.30,336.30 87.00,335.78 96.50,335.27 97.05,303.45 97.60,301.62 98.60,300.88 100.30,300.42 104.30,299.88 110.30,299.58 111.90,336.30 114.60,335.78 124.00,335.27 124.55,303.45 125.10,301.62 126.10,300.88 127.80,300.42 131.80,299.88 138.00,299.58 139.60,336.30 142.30,335.78 151.40,335.27 151.95,303.45 152.50,301.62 153.50,300.88 155.20,300.42 159.20,299.88 165.60,299.58 167.20,336.30 169.90,335.78 179.10,335.27 179.65,303.45 180.20,301.62 181.20,300.88 182.90,300.42 186.90,299.88 193.40,299.58 195.00,336.30 197.70,335.78 207.00,335.27" fill="none" stroke="#2c6fd4" stroke-width="1.6" stroke-linejoin="round" />
<polyline points="55.90,335.53 69.00,335.53 69.55,311.33 70.10,309.96 71.10,309.44 72.80,309.13 76.80,308.77 82.70,308.56 84.30,336.55 87.00,336.04 96.50,335.53 97.05,311.33 97.60,309.96 98.60,309.44 100.30,309.13 104.30,308.77 110.30,308.56 111.90,336.55 114.60,336.04 124.00,335.53 124.55,311.33 125.10,309.96 126.10,309.44 127.80,309.13 131.80,308.77 138.00,308.56 139.60,336.55 142.30,336.04 151.40,335.53 151.95,311.33 152.50,309.96 153.50,309.44 155.20,309.13 159.20,308.77 165.60,308.56 167.20,336.55 169.90,336.04 179.10,335.53 179.65,311.33 180.20,309.96 181.20,309.44 182.90,309.13 186.90,308.77 193.40,308.56 195.00,336.55 197.70,336.04 207.00,335.53" fill="none" stroke="#37a268" stroke-width="1.6" stroke-linejoin="round" />
<polyline points="55.90,334.76 69.00,334.76 69.55,324.71 70.10,324.13 71.10,323.93 72.80,323.86 76.80,323.77 82.70,323.71 84.30,335.01 87.00,334.89 96.50,334.76 97.05,324.71 97.60,324.13 98.60,323.93 100.30,323.86 104.30,323.77 110.30,323.71 111.90,335.01 114.60,334.89 124.00,334.76 124.55,324.71 125.10,324.13 126.10,323.93 127.80,323.86 131.80,323.77 138.00,323.71 139.60,335.01 142.30,334.89 151.40,334.76 151.95,324.71 152.50,324.13 153.50,323.93 155.20,323.86 159.20,323.77 165.60,323.71 167.20,335.01 169.90,334.89 179.10,334.76 179.65,324.71 180.20,324.13 181.20,323.93 182.90,323.86 186.90,323.77 193.40,323.71 195.00,335.01 197.70,334.89 207.00,334.76" fill="none" stroke="#b47ee4" stroke-width="1.6" stroke-linejoin="round" />
<line x1="63.10" y1="220.40" x2="74.80" y2="220.40" stroke="#b07ae0" stroke-width="1.5" />
<line x1="112.60" y1="220.40" x2="123.90" y2="220.40" stroke="#2e9e62" stroke-width="1.5" />
<line x1="159.20" y1="220.40" x2="170.80" y2="220.40" stroke="#2f78d6" stroke-width="1.5" />
<line x1="63.10" y1="232.70" x2="74.80" y2="232.70" stroke="#d93a3a" stroke-width="1.5" />
<line x1="112.60" y1="232.70" x2="123.90" y2="232.70" stroke="#4a4a4a" stroke-width="1.5" />
<text x="79.30" y="223.50" font-family="'Liberation Sans',sans-serif" font-size="8.6" font-weight="400" text-anchor="start" fill="#222" textLength="30.8" lengthAdjust="spacingAndGlyphs"  style="">2.5 kPa</text>
<text x="128.90" y="223.50" font-family="'Liberation Sans',sans-serif" font-size="8.6" font-weight="400" text-anchor="start" fill="#222" textLength="28.0" lengthAdjust="spacingAndGlyphs"  style="">10 kPa</text>
<text x="174.80" y="223.50" font-family="'Liberation Sans',sans-serif" font-size="8.6" font-weight="400" text-anchor="start" fill="#222" textLength="28.3" lengthAdjust="spacingAndGlyphs"  style="">20 kPa</text>
<text x="79.30" y="235.80" font-family="'Liberation Sans',sans-serif" font-size="8.6" font-weight="400" text-anchor="start" fill="#222" textLength="28.2" lengthAdjust="spacingAndGlyphs"  style="">40 kPa</text>
<text x="128.40" y="235.80" font-family="'Liberation Sans',sans-serif" font-size="8.6" font-weight="400" text-anchor="start" fill="#222" textLength="28.5" lengthAdjust="spacingAndGlyphs"  style="">80 kPa</text>
<rect x="44.00" y="206.10" width="174.00" height="138.70" fill="none" stroke="#000" stroke-width="1.5"/>
<line x1="41.30" y1="334.50" x2="44.00" y2="334.50" stroke="#000" stroke-width="1.2" />
<line x1="41.30" y1="308.82" x2="44.00" y2="308.82" stroke="#000" stroke-width="1.2" />
<line x1="41.30" y1="283.14" x2="44.00" y2="283.14" stroke="#000" stroke-width="1.2" />
<line x1="41.30" y1="257.46" x2="44.00" y2="257.46" stroke="#000" stroke-width="1.2" />
<line x1="41.30" y1="231.78" x2="44.00" y2="231.78" stroke="#000" stroke-width="1.2" />
<line x1="41.30" y1="206.10" x2="44.00" y2="206.10" stroke="#000" stroke-width="1.2" />
<line x1="42.40" y1="347.34" x2="44.00" y2="347.34" stroke="#000" stroke-width="1.2" />
<line x1="42.40" y1="321.66" x2="44.00" y2="321.66" stroke="#000" stroke-width="1.2" />
<line x1="42.40" y1="295.98" x2="44.00" y2="295.98" stroke="#000" stroke-width="1.2" />
<line x1="42.40" y1="270.30" x2="44.00" y2="270.30" stroke="#000" stroke-width="1.2" />
<line x1="42.40" y1="244.62" x2="44.00" y2="244.62" stroke="#000" stroke-width="1.2" />
<line x1="42.40" y1="218.94" x2="44.00" y2="218.94" stroke="#000" stroke-width="1.2" />
<line x1="55.90" y1="344.80" x2="55.90" y2="347.50" stroke="#000" stroke-width="1.2" />
<line x1="80.10" y1="344.80" x2="80.10" y2="347.50" stroke="#000" stroke-width="1.2" />
<line x1="104.30" y1="344.80" x2="104.30" y2="347.50" stroke="#000" stroke-width="1.2" />
<line x1="128.50" y1="344.80" x2="128.50" y2="347.50" stroke="#000" stroke-width="1.2" />
<line x1="152.70" y1="344.80" x2="152.70" y2="347.50" stroke="#000" stroke-width="1.2" />
<line x1="176.90" y1="344.80" x2="176.90" y2="347.50" stroke="#000" stroke-width="1.2" />
<line x1="201.10" y1="344.80" x2="201.10" y2="347.50" stroke="#000" stroke-width="1.2" />
<line x1="43.80" y1="344.80" x2="43.80" y2="346.40" stroke="#000" stroke-width="1.2" />
<line x1="68.00" y1="344.80" x2="68.00" y2="346.40" stroke="#000" stroke-width="1.2" />
<line x1="92.20" y1="344.80" x2="92.20" y2="346.40" stroke="#000" stroke-width="1.2" />
<line x1="116.40" y1="344.80" x2="116.40" y2="346.40" stroke="#000" stroke-width="1.2" />
<line x1="140.60" y1="344.80" x2="140.60" y2="346.40" stroke="#000" stroke-width="1.2" />
<line x1="164.80" y1="344.80" x2="164.80" y2="346.40" stroke="#000" stroke-width="1.2" />
<line x1="189.00" y1="344.80" x2="189.00" y2="346.40" stroke="#000" stroke-width="1.2" />
<line x1="213.20" y1="344.80" x2="213.20" y2="346.40" stroke="#000" stroke-width="1.2" />
<text transform="translate(40.20,338.80) scale(1.1,1)" font-family="'Liberation Sans',sans-serif" font-size="12.3" font-weight="700" text-anchor="end" fill="#000">0.0</text>
<text transform="translate(40.20,313.12) scale(1.1,1)" font-family="'Liberation Sans',sans-serif" font-size="12.3" font-weight="700" text-anchor="end" fill="#000">0.5</text>
<text transform="translate(40.20,287.44) scale(1.1,1)" font-family="'Liberation Sans',sans-serif" font-size="12.3" font-weight="700" text-anchor="end" fill="#000">1.0</text>
<text transform="translate(40.20,261.76) scale(1.1,1)" font-family="'Liberation Sans',sans-serif" font-size="12.3" font-weight="700" text-anchor="end" fill="#000">1.5</text>
<text transform="translate(40.20,236.08) scale(1.1,1)" font-family="'Liberation Sans',sans-serif" font-size="12.3" font-weight="700" text-anchor="end" fill="#000">2.0</text>
<text transform="translate(40.20,210.40) scale(1.1,1)" font-family="'Liberation Sans',sans-serif" font-size="12.3" font-weight="700" text-anchor="end" fill="#000">2.5</text>
<text transform="translate(55.90,359.60) scale(1.0,1)" font-family="'Liberation Sans',sans-serif" font-size="12.5" font-weight="700" text-anchor="middle" fill="#000">0</text>
<text transform="translate(80.10,359.60) scale(1.0,1)" font-family="'Liberation Sans',sans-serif" font-size="12.5" font-weight="700" text-anchor="middle" fill="#000">10</text>
<text transform="translate(104.30,359.60) scale(1.0,1)" font-family="'Liberation Sans',sans-serif" font-size="12.5" font-weight="700" text-anchor="middle" fill="#000">20</text>
<text transform="translate(128.50,359.60) scale(1.0,1)" font-family="'Liberation Sans',sans-serif" font-size="12.5" font-weight="700" text-anchor="middle" fill="#000">30</text>
<text transform="translate(152.70,359.60) scale(1.0,1)" font-family="'Liberation Sans',sans-serif" font-size="12.5" font-weight="700" text-anchor="middle" fill="#000">40</text>
<text transform="translate(176.90,359.60) scale(1.0,1)" font-family="'Liberation Sans',sans-serif" font-size="12.5" font-weight="700" text-anchor="middle" fill="#000">50</text>
<text transform="translate(201.10,359.60) scale(1.0,1)" font-family="'Liberation Sans',sans-serif" font-size="12.5" font-weight="700" text-anchor="middle" fill="#000">60</text>
<text x="131.30" y="374.40" font-family="'Liberation Sans',sans-serif" font-size="12.4" font-weight="700" text-anchor="middle" fill="#000" textLength="49.6" lengthAdjust="spacingAndGlyphs"  style="">Time (s)</text>
<text x="230.80" y="204.90" font-family="'Liberation Serif',serif" font-size="17.5" font-weight="700" text-anchor="start" fill="#000"  style="">e</text>
<text transform="translate(240.8,276.1) rotate(-90)" text-anchor="middle" font-family="'Liberation Sans',sans-serif" font-size="11.8" font-weight="700" fill="#000" textLength="38.4" lengthAdjust="spacingAndGlyphs"><tspan font-weight="400">Δ </tspan>C/C<tspan font-size="8.5">0</tspan></text>
<rect x="271.6" y="206.4" width="100.00" height="138.80" fill="#fcfbe6"/>
<rect x="573.8" y="206.4" width="100.00" height="138.80" fill="#fcfbe6"/>
<polyline points="276.20,334.01 280.81,229.02 285.42,334.01 290.03,229.02 294.64,334.01 299.25,229.02 303.86,334.01 308.47,229.02 313.08,334.01 317.69,229.02 322.30,334.01 326.91,229.02 331.52,334.01 336.13,229.02 340.74,334.01 345.35,229.02 349.96,334.01 354.57,229.02 359.18,334.01 363.79,229.02 368.40,334.01" fill="none" stroke="#16169c" stroke-width="1.55" stroke-linejoin="round" />
<polyline points="576.30,334.01 580.93,229.02 585.56,334.01 590.19,229.02 594.82,334.01 599.45,229.02 604.08,334.01 608.71,229.02 613.34,334.01 617.97,229.02 622.60,334.01 627.23,229.02 631.86,334.01 636.49,229.02 641.12,334.01 645.75,229.02 650.38,334.01 655.01,229.02 659.64,334.01 664.27,229.02 668.90,334.01" fill="none" stroke="#16169c" stroke-width="1.55" stroke-linejoin="round" />
<path d="M375.90,229.59 L377.10,229.95 L378.30,229.74 L379.50,230.02 L380.70,230.04 L381.90,229.37 L383.10,229.30 L384.30,230.29 L385.50,229.59 L386.70,229.56 L387.90,230.47 L389.10,229.84 L390.30,230.27 L391.50,229.84 L392.70,230.03 L393.90,229.44 L395.10,230.02 L396.30,230.30 L397.50,229.88 L398.70,230.14 L399.90,230.06 L401.10,229.33 L402.30,230.16 L403.50,229.95 L404.70,229.60 L405.90,229.28 L407.10,230.27 L408.30,229.80 L409.50,230.09 L410.70,230.28 L411.90,230.08 L413.10,230.33 L414.30,229.69 L415.50,230.18 L416.70,229.75 L417.90,230.34 L419.10,230.27 L420.30,229.33 L421.50,229.37 L422.70,229.46 L423.90,230.36 L425.10,229.72 L426.30,229.95 L427.50,229.56 L428.70,229.80 L429.90,229.65 L431.10,229.61 L432.30,229.89 L433.50,229.89 L434.70,230.27 L435.90,230.00 L437.10,230.30 L438.30,230.22 L439.50,230.38 L440.70,230.00 L441.90,229.40 L443.10,230.25 L444.30,230.39 L445.50,230.33 L446.70,229.95 L447.90,230.15 L449.10,229.58 L450.30,230.37 L451.50,230.10 L452.70,229.81 L453.90,229.60 L455.10,230.62 L456.30,230.86 L457.50,229.85 L458.70,230.79 L459.90,230.41 L461.10,230.19 L462.30,230.44 L463.50,231.10 L464.70,231.30 L465.90,230.38 L467.10,231.12 L468.30,230.49 L469.50,231.34 L470.70,230.89 L471.90,231.56 L473.10,231.67 L474.30,231.08 L475.50,231.63 L476.70,230.75 L477.90,230.40 L479.10,230.96 L480.30,230.19 L481.50,230.30 L482.70,230.46 L483.90,230.62 L485.10,229.98 L486.30,229.75 L487.50,230.66 L488.70,229.92 L489.90,230.62 L491.10,230.48 L492.30,229.79 L493.50,229.84 L494.70,229.87 L495.90,229.98 L497.10,229.88 L498.30,229.81 L499.50,229.86 L500.70,230.23 L501.90,229.69 L503.10,229.59 L504.30,229.92 L505.50,229.34 L506.70,229.40 L507.90,230.21 L509.10,229.66 L510.30,229.69 L511.50,229.04 L512.70,229.52 L513.90,229.71 L515.10,229.04 L516.30,229.75 L517.50,229.77 L518.70,229.08 L519.90,229.76 L521.10,229.56 L522.30,229.81 L523.50,229.42 L524.70,229.84 L525.90,229.88 L527.10,229.02 L528.30,229.06 L529.50,229.79 L530.70,230.14 L531.90,229.28 L533.10,229.52 L534.30,229.68 L535.50,229.36 L536.70,229.41 L537.90,229.34 L539.10,229.41 L540.30,229.68 L541.50,229.32 L542.70,229.41 L543.90,229.88 L545.10,228.98 L546.30,229.63 L547.50,229.83 L548.70,229.32 L549.90,229.21 L551.10,229.90 L552.30,229.22 L553.50,229.16 L554.70,229.45 L555.90,229.77 L557.10,229.05 L558.30,229.31 L559.50,229.32 L560.70,229.92 L561.90,229.44 L563.10,229.94 L564.30,229.11 L565.50,229.31 L566.70,229.69 L567.90,229.97 L569.10,229.44 L569.80,230.50 L569.80,335.33 L568.30,335.22 L566.80,335.63 L565.30,335.29 L563.80,335.91 L562.30,335.94 L560.80,335.28 L559.30,335.38 L557.80,335.91 L556.30,335.74 L554.80,335.91 L553.30,335.45 L551.80,335.23 L550.30,335.39 L548.80,335.89 L547.30,335.37 L545.80,335.45 L544.30,335.52 L542.80,335.52 L541.30,335.51 L539.80,336.02 L538.30,335.26 L536.80,335.10 L535.30,336.04 L533.80,335.98 L532.30,336.09 L530.80,335.53 L529.30,336.05 L527.80,336.03 L526.30,335.32 L524.80,335.85 L523.30,335.94 L521.80,335.76 L520.30,335.62 L518.80,335.39 L517.30,335.44 L515.80,335.33 L514.30,335.17 L512.80,335.69 L511.30,335.39 L509.80,335.91 L508.30,335.15 L506.80,336.00 L505.30,335.79 L503.80,336.02 L502.30,336.00 L500.80,336.00 L499.30,335.68 L497.80,335.11 L496.30,335.85 L494.80,335.27 L493.30,335.40 L491.80,335.76 L490.30,335.62 L488.80,335.51 L487.30,336.04 L485.80,335.71 L484.30,335.44 L482.80,335.35 L481.30,335.96 L479.80,335.58 L478.30,335.88 L476.80,335.45 L475.30,335.30 L473.80,335.63 L472.30,335.92 L470.80,335.27 L469.30,335.89 L467.80,336.02 L466.30,335.91 L464.80,335.92 L463.30,335.11 L461.80,335.73 L460.30,335.96 L458.80,335.15 L457.30,335.37 L455.80,335.37 L454.30,335.63 L452.80,335.52 L451.30,335.57 L449.80,335.88 L448.30,335.10 L446.80,335.15 L445.30,335.23 L443.80,335.22 L442.30,335.17 L440.80,336.07 L439.30,335.95 L437.80,335.19 L436.30,335.60 L434.80,335.42 L433.30,335.41 L431.80,335.45 L430.30,335.75 L428.80,335.69 L427.30,335.46 L425.80,335.29 L424.30,335.43 L422.80,335.22 L421.30,335.66 L419.80,335.82 L418.30,335.48 L416.80,335.18 L415.30,335.28 L413.80,335.47 L412.30,335.70 L410.80,335.88 L409.30,335.48 L407.80,335.90 L406.30,335.72 L404.80,335.53 L403.30,335.47 L401.80,335.60 L400.30,335.80 L398.80,335.52 L397.30,335.79 L395.80,335.56 L394.30,335.35 L392.80,335.64 L391.30,335.80 L389.80,335.17 L388.30,335.52 L386.80,335.53 L385.30,335.98 L383.80,336.04 L382.30,335.47 L380.80,336.00 L379.30,335.89 L377.80,335.36 L376.30,335.56 L375.90,335.80 Z" fill="#000096"/>
<text x="415.80" y="219.90" font-family="'Liberation Sans',sans-serif" font-size="9.6" font-weight="400" text-anchor="start" fill="#222" textLength="116.6" lengthAdjust="spacingAndGlyphs"  style="">Loading Pressure of 120 kPa</text>
<line x1="271.60" y1="206.40" x2="366.80" y2="206.40" stroke="#000" stroke-width="1.3" />
<line x1="374.80" y1="206.40" x2="567.00" y2="206.40" stroke="#000" stroke-width="1.3" />
<line x1="575.00" y1="206.40" x2="673.80" y2="206.40" stroke="#000" stroke-width="1.3" />
<line x1="271.60" y1="345.20" x2="367.50" y2="345.20" stroke="#000" stroke-width="1.3" />
<line x1="375.00" y1="345.20" x2="567.50" y2="345.20" stroke="#000" stroke-width="1.3" />
<line x1="575.50" y1="345.20" x2="673.80" y2="345.20" stroke="#000" stroke-width="1.3" />
<line x1="271.60" y1="206.40" x2="271.60" y2="345.20" stroke="#000" stroke-width="1.3" />
<line x1="673.80" y1="206.40" x2="673.80" y2="345.20" stroke="#000" stroke-width="1.3" />
<line x1="365.70" y1="208.70" x2="372.40" y2="204.30" stroke="#000" stroke-width="1.2" />
<line x1="372.40" y1="209.20" x2="379.40" y2="204.30" stroke="#000" stroke-width="1.2" />
<line x1="566.00" y1="208.60" x2="572.40" y2="204.20" stroke="#000" stroke-width="1.2" />
<line x1="572.80" y1="208.80" x2="579.80" y2="204.10" stroke="#000" stroke-width="1.2" />
<line x1="366.60" y1="347.50" x2="373.00" y2="343.00" stroke="#000" stroke-width="1.2" />
<line x1="372.60" y1="347.70" x2="379.30" y2="342.60" stroke="#000" stroke-width="1.2" />
<line x1="566.40" y1="347.40" x2="572.20" y2="343.20" stroke="#000" stroke-width="1.2" />
<line x1="573.00" y1="347.50" x2="579.70" y2="343.00" stroke="#000" stroke-width="1.2" />
<line x1="268.90" y1="333.00" x2="271.60" y2="333.00" stroke="#000" stroke-width="1.2" />
<line x1="268.90" y1="307.70" x2="271.60" y2="307.70" stroke="#000" stroke-width="1.2" />
<line x1="268.90" y1="282.40" x2="271.60" y2="282.40" stroke="#000" stroke-width="1.2" />
<line x1="268.90" y1="257.10" x2="271.60" y2="257.10" stroke="#000" stroke-width="1.2" />
<line x1="268.90" y1="231.80" x2="271.60" y2="231.80" stroke="#000" stroke-width="1.2" />
<line x1="268.90" y1="206.50" x2="271.60" y2="206.50" stroke="#000" stroke-width="1.2" />
<line x1="270.00" y1="345.65" x2="271.60" y2="345.65" stroke="#000" stroke-width="1.2" />
<line x1="270.00" y1="320.35" x2="271.60" y2="320.35" stroke="#000" stroke-width="1.2" />
<line x1="270.00" y1="295.05" x2="271.60" y2="295.05" stroke="#000" stroke-width="1.2" />
<line x1="270.00" y1="269.75" x2="271.60" y2="269.75" stroke="#000" stroke-width="1.2" />
<line x1="270.00" y1="244.45" x2="271.60" y2="244.45" stroke="#000" stroke-width="1.2" />
<line x1="270.00" y1="219.15" x2="271.60" y2="219.15" stroke="#000" stroke-width="1.2" />
<line x1="276.20" y1="345.20" x2="276.20" y2="347.90" stroke="#000" stroke-width="1.2" />
<line x1="322.30" y1="345.20" x2="322.30" y2="347.90" stroke="#000" stroke-width="1.2" />
<line x1="368.40" y1="345.20" x2="368.40" y2="347.90" stroke="#000" stroke-width="1.2" />
<line x1="472.30" y1="345.20" x2="472.30" y2="347.90" stroke="#000" stroke-width="1.2" />
<line x1="623.30" y1="345.20" x2="623.30" y2="347.90" stroke="#000" stroke-width="1.2" />
<line x1="668.90" y1="345.20" x2="668.90" y2="347.90" stroke="#000" stroke-width="1.2" />
<line x1="299.20" y1="345.20" x2="299.20" y2="346.80" stroke="#000" stroke-width="1.2" />
<line x1="345.60" y1="345.20" x2="345.60" y2="346.80" stroke="#000" stroke-width="1.2" />
<line x1="600.50" y1="345.20" x2="600.50" y2="346.80" stroke="#000" stroke-width="1.2" />
<line x1="646.50" y1="345.20" x2="646.50" y2="346.80" stroke="#000" stroke-width="1.2" />
<line x1="411.50" y1="345.20" x2="411.50" y2="346.80" stroke="#000" stroke-width="1.2" />
<line x1="533.00" y1="345.20" x2="533.00" y2="346.80" stroke="#000" stroke-width="1.2" />
<text transform="translate(266.60,337.30) scale(1.0,1)" font-family="'Liberation Sans',sans-serif" font-size="12.3" font-weight="700" text-anchor="end" fill="#000">0.0</text>
<text transform="translate(266.60,312.00) scale(1.0,1)" font-family="'Liberation Sans',sans-serif" font-size="12.3" font-weight="700" text-anchor="end" fill="#000">0.5</text>
<text transform="translate(266.60,286.70) scale(1.0,1)" font-family="'Liberation Sans',sans-serif" font-size="12.3" font-weight="700" text-anchor="end" fill="#000">1.0</text>
<text transform="translate(266.60,261.40) scale(1.0,1)" font-family="'Liberation Sans',sans-serif" font-size="12.3" font-weight="700" text-anchor="end" fill="#000">1.5</text>
<text transform="translate(266.60,236.10) scale(1.0,1)" font-family="'Liberation Sans',sans-serif" font-size="12.3" font-weight="700" text-anchor="end" fill="#000">2.0</text>
<text transform="translate(266.60,210.80) scale(1.0,1)" font-family="'Liberation Sans',sans-serif" font-size="12.3" font-weight="700" text-anchor="end" fill="#000">2.5</text>
<text transform="translate(276.20,359.00) scale(1.0,1)" font-family="'Liberation Sans',sans-serif" font-size="12.3" font-weight="700" text-anchor="middle" fill="#000">0</text>
<text transform="translate(322.30,359.00) scale(1.0,1)" font-family="'Liberation Sans',sans-serif" font-size="12.3" font-weight="700" text-anchor="middle" fill="#000">5</text>
<text transform="translate(368.40,359.00) scale(1.0,1)" font-family="'Liberation Sans',sans-serif" font-size="12.3" font-weight="700" text-anchor="middle" fill="#000">10</text>
<text transform="translate(472.30,359.00) scale(1.0,1)" font-family="'Liberation Sans',sans-serif" font-size="12.3" font-weight="700" text-anchor="middle" fill="#000">1000</text>
<text transform="translate(623.30,359.00) scale(1.0,1)" font-family="'Liberation Sans',sans-serif" font-size="12.3" font-weight="700" text-anchor="middle" fill="#000">1995</text>
<text transform="translate(668.60,359.00) scale(1.0,1)" font-family="'Liberation Sans',sans-serif" font-size="12.3" font-weight="700" text-anchor="middle" fill="#000">2000</text>
<text x="473.20" y="375.60" font-family="'Liberation Sans',sans-serif" font-size="12.3" font-weight="700" text-anchor="middle" fill="#000" textLength="39.5" lengthAdjust="spacingAndGlyphs"  style="">Cycles</text>
<defs>
<linearGradient id="bg1" x1="0.25" y1="1" x2="0.75" y2="0">
 <stop offset="0" stop-color="#cecfca"/><stop offset="0.45" stop-color="#bfc0bb"/><stop offset="1" stop-color="#a6a7a2"/></linearGradient>
<linearGradient id="bg2" x1="0.25" y1="1" x2="0.75" y2="0">
 <stop offset="0" stop-color="#cfd0cb"/><stop offset="0.45" stop-color="#bebfba"/><stop offset="1" stop-color="#a3a49f"/></linearGradient>
<linearGradient id="glove" x1="0" y1="0" x2="1" y2="0">
 <stop offset="0" stop-color="#3444a0"/><stop offset="0.5" stop-color="#2e3d94"/><stop offset="1" stop-color="#232f76"/></linearGradient>
<linearGradient id="gloveV" x1="0" y1="0" x2="1" y2="1">
 <stop offset="0" stop-color="#3343a0"/><stop offset="0.55" stop-color="#2c3a8c"/><stop offset="1" stop-color="#1f296c"/></linearGradient>
<linearGradient id="film" x1="0" y1="0" x2="1" y2="0">
 <stop offset="0" stop-color="#d8d9e0" stop-opacity="0.2"/><stop offset="1" stop-color="#e4e5ec" stop-opacity="0.7"/></linearGradient>
<filter id="blur2" x="-30%" y="-30%" width="160%" height="160%"><feGaussianBlur stdDeviation="2.2"/></filter>
<filter id="soft" x="-5%" y="-5%" width="110%" height="110%"><feGaussianBlur stdDeviation="0.45"/></filter>
<radialGradient id="glow" cx="0.5" cy="0.5" r="0.5"><stop offset="0" stop-color="#d6d7c8" stop-opacity="0.8"/><stop offset="1" stop-color="#d6d7c8" stop-opacity="0"/></radialGradient>
<clipPath id="cp1"><rect x="7.1" y="397.1" width="118.2" height="123.4"/></clipPath>
<clipPath id="cp2"><rect x="125.3" y="397.1" width="117.5" height="123.4"/></clipPath>
<clipPath id="cp3"><rect x="242.8" y="397.1" width="117.9" height="123.4"/></clipPath>
<clipPath id="cp4"><rect x="360.7" y="397.1" width="117.9" height="123.4"/></clipPath>
</defs>
<rect x="7.1" y="397.1" width="118.20" height="123.40" fill="url(#bg1)"/>
<rect x="7.1" y="397.1" width="1.6" height="123.40" fill="#c9cac6" opacity="0.7"/>
<rect x="125.3" y="397.1" width="117.50" height="123.40" fill="url(#bg2)"/>
<rect x="125.3" y="397.1" width="1.6" height="123.40" fill="#c9cac6" opacity="0.7"/>
<rect x="242.8" y="397.1" width="117.90" height="123.40" fill="url(#bg1)"/>
<rect x="242.8" y="397.1" width="1.6" height="123.40" fill="#c9cac6" opacity="0.7"/>
<rect x="360.7" y="397.1" width="117.90" height="123.40" fill="url(#bg2)"/>
<rect x="360.7" y="397.1" width="1.6" height="123.40" fill="#c9cac6" opacity="0.7"/>
<ellipse cx="104" cy="476" rx="22" ry="7" fill="url(#glow)" opacity="0.5"/>
<g clip-path="url(#cp1)"><g filter="url(#soft)">
<path d="M47,452 C45,475 40,495 30,521 L39,521 C41,505 44,488 48,470 Z" fill="#8a8fb0" opacity="0.75" />
<path d="M46,452 C44,474 37,498 26.8,521 L29.8,521 C39,499 45.5,476 47.6,455 Z" fill="#a87c5e" opacity="0.95" />
<path d="M52.8,421.9 C53.2,416.5 56,413.4 59.4,413.4 C63.5,413.4 66.8,415.8 67.4,421.9 L67.2,440 L66.6,458 L68,475 L70.6,489 L43.8,489 L46.3,460 L47.7,455.5 L49.2,443.8 L50.7,432.1 Z" fill="url(#glove)" opacity="1.0" />
<path d="M66.8,437 L71.8,438.5 L72.4,470 L71.2,488 L68.5,486 L67.2,460 Z" fill="url(#film)" opacity="1.0" />
<path d="M37.5,521 L44.1,482.5 C50,484 60,486 70.4,488.5 C78,490 86,492 93,492.8 C98,493.5 102,494.5 104.5,496.8 C107,499.5 108.3,503 108.8,508 L109.2,521 Z" fill="url(#gloveV)" opacity="1.0" />
<path d="M72,493 C75,502 76,512 75.5,521 L80.5,521 C80.5,512 78.5,501 75.5,493.5 Z" fill="#10163e" opacity="0.75" />
<path d="M81,508 C84,512 86,516 86,521 L92,521 C90,515 87,511 83,507 Z" fill="#10163e" opacity="0.5" />
<path d="M48,484 C56,485.5 64,487 70,489 L69,491 C62,489.5 55,488 47.5,487 Z" fill="#4656a8" opacity="0.5" />
<circle cx="57" cy="458" r="0.9" fill="#d0d6f2" opacity="0.85"/><circle cx="60" cy="463" r="0.7" fill="#d0d6f2" opacity="0.85"/><circle cx="55" cy="470" r="0.6" fill="#d0d6f2" opacity="0.7"/>
</g></g>
<g clip-path="url(#cp2)"><g filter="url(#soft)">
<path d="M188,462 L196,455 L212,452 L219,457 C215,466 206,476 197,487 L188,487 Z" fill="#959693" opacity="0.95" filter="url(#blur2)"/>
<path d="M164.5,466 C162,488 156,506 150,521 L158,521 C160,505 162,490 165.5,475 Z" fill="#8a8fb0" opacity="0.75" />
<path d="M163.5,468 C161,490 155,507 148.5,521 L151.5,521 C158,507 163,490 165.2,470 Z" fill="#a87c5e" opacity="0.95" />
<path d="M165.2,462 C168,459 171,458 173.6,456.9 C177,453.5 180,451 183.7,448.5 C186.5,446 189,444.2 192.1,442.6 C195,441 197.5,439.5 200.5,438.4 C203.5,437.2 206,436.2 208.9,435.9 C211,435.7 212.8,435.9 214,436.7 C215.6,437.6 216.6,438.8 216.5,440.1 C216.5,442.3 216,444.3 214.8,446 C213.6,447.7 212.2,448.7 210.6,449.3 C209,450 207.2,450.6 205.5,451 C202.5,451.6 199.8,452.4 197.1,453.5 C195,454.6 193.4,456 192.1,457.7 C190.8,459 189.7,460.4 188.7,461.9 C187.3,463.2 186.2,464.6 185.4,466.1 C184.7,468 184.5,470 184.5,472 L184.5,480.4 L185.4,487.1 L186,492 L163,492 L164.5,470 Z" fill="url(#glove)" opacity="1.0" />
<path d="M156.8,521 L158.5,500.6 L161.8,485.5 C170,486 178,486.5 185.4,487.1 C189,488.5 192,490.5 195.5,492.2 C199.5,493.6 203.5,494.6 207.2,495.5 C210.2,496 213,496.5 215.6,497.2 C217.8,498 219.6,499 220.7,500.6 C222.2,502 223,503.8 223.2,505.6 L224,521 Z" fill="url(#gloveV)" opacity="1.0" />
<path d="M190.5,495 C192,503 192.8,512 192.6,521 L197,521 C197,512 195.5,503 193.5,495.5 Z" fill="#10163e" opacity="0.75" />
<path d="M208.6,502.3 C210.5,508 212.2,514 213,521 L216.5,521 C215.5,514 213.5,508 211,502 Z" fill="#10163e" opacity="0.55" />
<path d="M195,452 C200,446 206,442 212,440 L213,442 C207,444 201,448 196,454 Z" fill="#10163e" opacity="0.35" />
<circle cx="177" cy="467" r="1.0" fill="#d0d6f2" opacity="0.85"/><circle cx="179" cy="470" r="0.7" fill="#d0d6f2" opacity="0.8"/>
</g></g>
<g clip-path="url(#cp3)"><g filter="url(#soft)">
<path d="M303,468 C310,466.5 316,465.5 323,465.5 C331,466 338,468.5 343,473.5 C340,478 336,481 332,483 C326,485 320,486 315,486 C310,486 306,485 303,484 Z" fill="#959693" opacity="0.95" filter="url(#blur2)"/>
<path d="M281,466 C279,488 274,506 268.5,521 L276,521 C277,505 279,490 282,476 Z" fill="#8a8fb0" opacity="0.75" />
<path d="M280.5,466 C278.5,489 272.5,507 265.8,521 L268.8,521 C275,507 280.5,490 282.3,468 Z" fill="#a87c5e" opacity="0.95" />
<path d="M283,456.5 C287,454.5 291,453 295,452 C298,450.8 301,449.8 304,449 C307,448 310,447.2 313,446.7 C316,446.2 319,446 322,446 C324.5,446.1 327,446.3 329.5,446.7 C331.6,447.1 333.6,447.6 335.5,448.2 C337,448.9 338.4,449.9 339.2,451.2 C339.8,452.4 339.8,453.8 339.2,455 C338.5,456.6 337.5,457.8 336.2,458.7 C334.6,459.8 332.8,460.6 331,461 C329,461.3 327,461.3 325,461 C323.3,460.6 322,460 320.5,459.5 C318.5,459.5 316.5,459.8 314.5,460.2 C313,460.4 311.5,460.7 310,461 C308.3,461.8 306.8,462.8 305.5,464 C304.5,465.4 303.8,466.9 303.2,468.5 C302.5,470.5 302,472.5 301.7,474.5 L301.7,482 L302.5,486.5 L303,491 L281,491 L282,470 Z" fill="url(#glove)" opacity="1.0" />
<path d="M274,521 L277,503 L281.5,489.5 C288,487.8 295,487 302.5,486.5 C305,486 307.5,485.8 310,485.7 C314,486 318,486.5 322,487.2 C325,487.8 328,488.6 331,489.5 C333.5,490.8 335.5,492.2 337,494 C338.2,495.8 339,497.8 339.2,500 C339.6,503.5 339.8,507 340,510.5 C341.3,512 342.8,513 344.5,513.5 C347.5,513.6 350.5,513.5 353.5,513.5 C356,514.5 358,516 359.5,518 L361,521 Z" fill="url(#gloveV)" opacity="1.0" />
<path d="M303,489 C306.5,498 309,509 310.5,521 L314.5,521 C313,509 310,498 306,489 Z" fill="#10163e" opacity="0.7" />
<path d="M314,506 C318,507 323,510 327,515 C328,517 328.5,519 328.5,521 L315,521 C315.5,516 315,511 314,506 Z" fill="#10163e" opacity="0.75" />
<path d="M327,447 C331,447 335,448.5 337.5,451 L336,452.5 C333.5,450.5 330,449.5 327,449.5 Z" fill="#4858a8" opacity="0.5" />
</g></g>
<g clip-path="url(#cp4)"><g filter="url(#soft)">
<path d="M416,476 C426,474 440,476 450,478 C456,481 458,485 456,490 C445,489.5 430,488.5 417,487.5 Z" fill="#d4d5d6" opacity="0.55" filter="url(#blur2)"/>
<path d="M399,468 C396,490 391,506 386.5,521 L392,521 C393,505 396,490 399.5,478 Z" fill="#8a8fb0" opacity="0.75" />
<path d="M398.5,467 C396,489 390,507 383.8,521 L386.8,521 C392.5,507 398,490 400.3,469 Z" fill="#a87c5e" opacity="0.95" />
<path d="M402.5,456.5 C408,456.2 414,456.2 420,456.4 C426,456.6 432,456.8 437,457.2 C439.8,458.5 442.2,460.3 444.5,462.5 C447.2,463.5 450,464.7 452,466.2 C453.6,467.8 454,469.6 453.5,471.5 C453,473.2 452,474.4 450.5,475.2 C448,476.1 445.5,476.3 443,476 C440.8,475.4 438.8,474.6 437,473.7 C434.5,472.8 432,472 429.5,471.5 C427.5,471 425.5,470.7 423.5,470.7 C421.8,471 420.2,471.4 419,472.2 C417.6,473.4 416.6,474.6 416,476 C415.4,477.5 415.2,479 415.2,480.5 L417.5,486.5 L418,491 L398,491 L399.5,477.5 L401,466 Z" fill="url(#glove)" opacity="1.0" />
<path d="M389,521 L393.5,489.5 C401,488 409,487 417.5,486.5 C421.5,486.6 425.5,486.9 429.5,487.2 C433,487.5 436.5,487.7 440,488 C443.8,488.8 447.4,489.8 450.5,491 C452.6,492.8 454.2,494.8 455,497 C455.8,499.5 456.2,502 456.5,504.5 C457,506.5 457.4,508.5 458,510.5 C460,511.1 462,511.5 464,512 C467,512.8 470,513.8 473,515 C474.9,516.3 476.4,517.8 477.5,519.5 L478.6,521 Z" fill="url(#gloveV)" opacity="1.0" />
<path d="M420,488 C424,497 427.5,508 429.5,521 L433.5,521 C431.5,508 428,497 423.5,488 Z" fill="#10163e" opacity="0.7" />
<path d="M431,504.5 C436,505.5 440,508 443,512 C444,515 444.2,518 444,521 L432,521 C432.5,515 432,510 431,504.5 Z" fill="#10163e" opacity="0.75" />
<path d="M440,459 C444,460 447,462 449.5,465 L448,466.5 C445.5,463.8 442.5,462 439,461 Z" fill="#4858a8" opacity="0.5" />
<circle cx="410" cy="462" r="0.8" fill="#d0d6f2" opacity="0.8"/><circle cx="414" cy="465" r="0.7" fill="#d0d6f2" opacity="0.8"/><circle cx="407" cy="467" r="0.6" fill="#d0d6f2" opacity="0.7"/>
</g></g>
<line x1="169.2" y1="420.0" x2="162.6" y2="490.0" stroke="#f4f000" stroke-width="2.4" stroke-dasharray="6.6,3.0" stroke-dashoffset="0"/>
<line x1="164.80" y1="463.10" x2="199.90" y2="422.20" stroke="#f4f000" stroke-width="2.4" />
<path d="M167.0,441.9 Q173.5,441.6 179.4,445.8" stroke="#f4f000" stroke-width="1.6" fill="none"/>
<text x="180.00" y="435.30" font-family="'Liberation Sans',sans-serif" font-size="9.2" font-weight="400" text-anchor="middle" fill="#f4f000" textLength="14.6" lengthAdjust="spacingAndGlyphs"  style="stroke:#f4f000;stroke-width:0.35">30°</text>
<line x1="284.8" y1="420.0" x2="280.4" y2="488.6" stroke="#f4f000" stroke-width="2.4" stroke-dasharray="6.6,3.0" stroke-dashoffset="0"/>
<line x1="283.40" y1="456.50" x2="330.80" y2="433.90" stroke="#f4f000" stroke-width="2.4" />
<path d="M284.8,441.9 Q291.5,441.5 296.8,448.0" stroke="#f4f000" stroke-width="1.6" fill="none"/>
<text x="300.10" y="438.30" font-family="'Liberation Sans',sans-serif" font-size="9.2" font-weight="400" text-anchor="middle" fill="#f4f000" textLength="14.6" lengthAdjust="spacingAndGlyphs"  style="stroke:#f4f000;stroke-width:0.35">60°</text>
<line x1="403.4" y1="416.6" x2="399.0" y2="486.0" stroke="#f4f000" stroke-width="2.4" stroke-dasharray="6.6,3.0" stroke-dashoffset="0"/>
<line x1="401.20" y1="453.90" x2="458.80" y2="456.00" stroke="#f4f000" stroke-width="2.4" />
<path d="M402.0,442.8 L413.6,442.8 L413.6,453.5" stroke="#f4f000" stroke-width="1.7" fill="none"/>
<text x="420.50" y="438.50" font-family="'Liberation Sans',sans-serif" font-size="9.2" font-weight="400" text-anchor="middle" fill="#f4f000" textLength="13.8" lengthAdjust="spacingAndGlyphs"  style="stroke:#f4f000;stroke-width:0.35">90°</text>
<text x="12.00" y="415.60" font-family="'Liberation Serif',serif" font-size="17.5" font-weight="700" text-anchor="start" fill="#000"  style="">f</text>
<rect x="513.20" y="399.9" width="26.60" height="119.00" fill="#fad9d9"/>
<rect x="563.00" y="399.9" width="17.60" height="119.00" fill="#fad9d9"/>
<rect x="606.00" y="399.9" width="17.80" height="119.00" fill="#fad9d9"/>
<rect x="644.70" y="399.9" width="29.50" height="119.00" fill="#fad9d9"/>
<text x="489.60" y="403.20" font-family="'Liberation Serif',serif" font-size="16.5" font-weight="700" text-anchor="start" fill="#000"  style="">g</text>
<text transform="translate(497.2,456.6) rotate(-90)" text-anchor="middle" font-family="'Liberation Sans',sans-serif" font-size="9.8" font-weight="700" fill="#000" textLength="31.0" lengthAdjust="spacingAndGlyphs"><tspan font-weight="400">Δ </tspan>C/C<tspan font-size="6.6" dy="2">0</tspan></text>
<polyline points="518.10,507.90 539.60,507.90 540.60,505.00 541.60,496.00 542.60,491.30 544.50,488.80 547.40,487.20 549.50,487.80 552.00,487.00 556.00,485.60 560.20,484.30 561.00,484.60 562.20,495.00 563.30,510.50 564.20,512.00 567.00,510.50 570.00,508.00 573.00,508.60 576.40,509.30 579.00,509.50 580.40,511.20 581.30,509.00 582.60,480.00 583.80,463.00 585.50,459.80 588.00,459.80 590.00,460.20 592.00,462.00 594.00,462.20 597.50,462.60 600.20,463.90 601.30,465.00 602.40,472.00 603.60,490.00 604.60,503.50 605.40,505.50 607.50,506.20 612.00,507.00 618.00,507.60 622.40,508.20 623.50,506.00 625.00,470.00 626.40,452.00 628.30,446.20 630.50,445.20 634.90,445.20 639.00,444.20 640.20,445.50 641.00,455.00 642.20,480.00 643.20,498.00 644.60,502.50 647.50,504.20 652.00,505.80 654.50,507.20 655.50,508.00 656.60,506.60 658.00,506.60 662.00,507.00 666.00,507.30 670.20,507.60" fill="none" stroke="#000" stroke-width="1.5" stroke-linejoin="round" />
<rect x="513.20" y="399.90" width="161.00" height="119.00" fill="none" stroke="#000" stroke-width="1.5"/>
<line x1="510.80" y1="507.90" x2="513.20" y2="507.90" stroke="#000" stroke-width="1.2" />
<line x1="510.80" y1="471.95" x2="513.20" y2="471.95" stroke="#000" stroke-width="1.2" />
<line x1="510.80" y1="436.00" x2="513.20" y2="436.00" stroke="#000" stroke-width="1.2" />
<line x1="510.80" y1="400.05" x2="513.20" y2="400.05" stroke="#000" stroke-width="1.2" />
<line x1="511.70" y1="489.92" x2="513.20" y2="489.92" stroke="#000" stroke-width="1.2" />
<line x1="511.70" y1="453.97" x2="513.20" y2="453.97" stroke="#000" stroke-width="1.2" />
<line x1="511.70" y1="418.02" x2="513.20" y2="418.02" stroke="#000" stroke-width="1.2" />
<line x1="518.10" y1="518.90" x2="518.10" y2="521.30" stroke="#000" stroke-width="1.2" />
<line x1="566.80" y1="518.90" x2="566.80" y2="521.30" stroke="#000" stroke-width="1.2" />
<line x1="615.50" y1="518.90" x2="615.50" y2="521.30" stroke="#000" stroke-width="1.2" />
<line x1="664.20" y1="518.90" x2="664.20" y2="521.30" stroke="#000" stroke-width="1.2" />
<line x1="542.45" y1="518.90" x2="542.45" y2="520.40" stroke="#000" stroke-width="1.2" />
<line x1="591.15" y1="518.90" x2="591.15" y2="520.40" stroke="#000" stroke-width="1.2" />
<line x1="639.85" y1="518.90" x2="639.85" y2="520.40" stroke="#000" stroke-width="1.2" />
<text transform="translate(508.80,511.20) scale(1.0,1)" font-family="'Liberation Sans',sans-serif" font-size="9.8" font-weight="700" text-anchor="end" fill="#000">0</text>
<text transform="translate(508.80,475.05) scale(1.0,1)" font-family="'Liberation Sans',sans-serif" font-size="9.8" font-weight="700" text-anchor="end" fill="#000">1</text>
<text transform="translate(508.80,438.60) scale(1.0,1)" font-family="'Liberation Sans',sans-serif" font-size="9.8" font-weight="700" text-anchor="end" fill="#000">2</text>
<text transform="translate(508.80,401.65) scale(1.0,1)" font-family="'Liberation Sans',sans-serif" font-size="9.8" font-weight="700" text-anchor="end" fill="#000">3</text>
<text transform="translate(518.10,531.00) scale(1.0,1)" font-family="'Liberation Sans',sans-serif" font-size="9.8" font-weight="700" text-anchor="middle" fill="#000">0</text>
<text transform="translate(566.80,531.00) scale(1.0,1)" font-family="'Liberation Sans',sans-serif" font-size="9.8" font-weight="700" text-anchor="middle" fill="#000">5</text>
<text transform="translate(615.50,531.00) scale(1.0,1)" font-family="'Liberation Sans',sans-serif" font-size="9.8" font-weight="700" text-anchor="middle" fill="#000">10</text>
<text transform="translate(664.20,531.00) scale(1.0,1)" font-family="'Liberation Sans',sans-serif" font-size="9.8" font-weight="700" text-anchor="middle" fill="#000">15</text>
<text x="594.00" y="542.60" font-family="'Liberation Sans',sans-serif" font-size="9.8" font-weight="700" text-anchor="middle" fill="#000" textLength="37.2" lengthAdjust="spacingAndGlyphs"  style="">Time (s)</text>
<text x="550.60" y="460.90" font-family="'Liberation Sans',sans-serif" font-size="8.6" font-weight="700" text-anchor="middle" fill="#2626d8" textLength="9.6" lengthAdjust="spacingAndGlyphs"  style="">30</text>
<circle cx="557.20" cy="456.30" r="1.1" fill="none" stroke="#7a7ae8" stroke-width="0.6"/>
<text x="552.20" y="471.70" font-family="'Liberation Sans',sans-serif" font-size="8.8" font-weight="700" text-anchor="middle" fill="#2626d8" textLength="34.8" lengthAdjust="spacingAndGlyphs"  style="">Bending</text>
<text x="591.20" y="435.20" font-family="'Liberation Sans',sans-serif" font-size="8.6" font-weight="700" text-anchor="middle" fill="#2626d8" textLength="9.6" lengthAdjust="spacingAndGlyphs"  style="">60</text>
<circle cx="597.80" cy="430.60" r="1.1" fill="none" stroke="#7a7ae8" stroke-width="0.6"/>
<text x="592.80" y="448.30" font-family="'Liberation Sans',sans-serif" font-size="8.8" font-weight="700" text-anchor="middle" fill="#2626d8" textLength="34.8" lengthAdjust="spacingAndGlyphs"  style="">Bending</text>
<text x="633.00" y="420.80" font-family="'Liberation Sans',sans-serif" font-size="8.6" font-weight="700" text-anchor="middle" fill="#2626d8" textLength="9.6" lengthAdjust="spacingAndGlyphs"  style="">90</text>
<circle cx="639.60" cy="416.20" r="1.1" fill="none" stroke="#7a7ae8" stroke-width="0.6"/>
<text x="634.60" y="433.90" font-family="'Liberation Sans',sans-serif" font-size="8.8" font-weight="700" text-anchor="middle" fill="#2626d8" textLength="34.8" lengthAdjust="spacingAndGlyphs"  style="">Bending</text>
</svg></body></html>
